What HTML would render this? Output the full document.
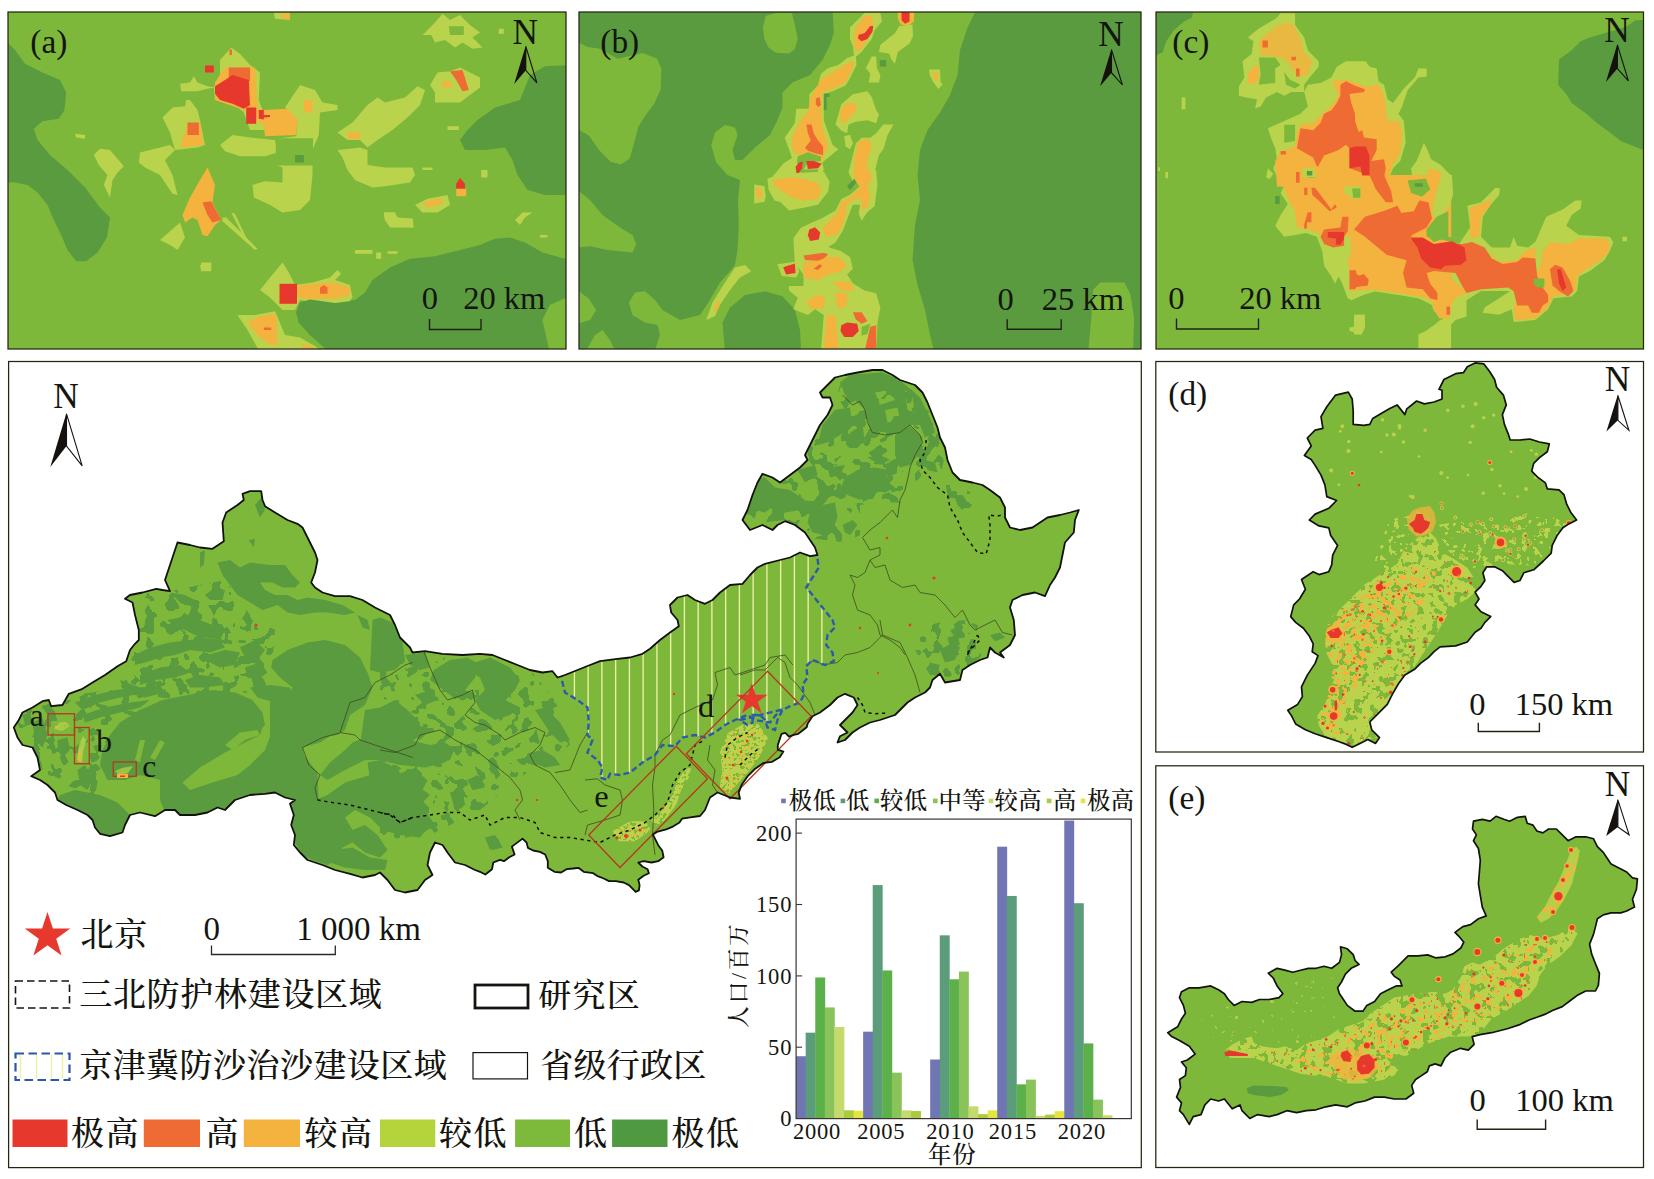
<!DOCTYPE html>
<html lang="zh"><head><meta charset="utf-8"><title>figure</title>
<style>html,body{margin:0;padding:0;background:#fff}svg{display:block}text{font-family:"Liberation Serif","Noto Serif CJK SC",serif;fill:#15150f;font-weight:500}</style></head><body>
<svg width="1654" height="1179" viewBox="0 0 1654 1179">
<rect width="1654" height="1179" fill="#fff"/>
<defs>
<clipPath id="cpa"><rect x="8.0" y="12.0" width="558.0" height="337.0"/></clipPath>
<clipPath id="cpb"><rect x="579.0" y="12.0" width="562.0" height="337.0"/></clipPath>
<clipPath id="cpc"><rect x="1156.0" y="12.0" width="487.5" height="337.0"/></clipPath>
<clipPath id="cpm"><rect x="8.6" y="361.5" width="1132.7" height="806.1"/></clipPath>
<clipPath id="cpd"><rect x="1155.8" y="361.5" width="487.7" height="390.5"/></clipPath>
<clipPath id="cpe"><rect x="1155.8" y="765.8" width="487.7" height="401.7"/></clipPath>
</defs>
<g clip-path="url(#cpa)">
<rect fill="#7db83b" x="8.0" y="12.0" width="558.0" height="337.0"/>
<polygon fill="#5a9b3f" points="5.0,40.0 15.0,50.0 25.0,63.8 42.5,72.5 60.0,80.0 66.2,92.5 64.5,110.0 58.8,118.8 42.5,121.2 33.8,128.8 37.5,140.0 50.0,155.0 67.5,170.0 85.0,187.5 100.0,207.5 110.0,217.5 107.0,237.5 97.5,252.5 86.2,261.2 76.2,261.2 67.5,250.0 61.2,235.0 53.8,220.0 47.5,205.0 37.5,192.5 27.5,185.0 15.0,182.5 5.0,182.5"/>
<polygon fill="#5a9b3f" points="570.0,65.0 545.0,66.2 530.0,75.0 525.0,87.5 520.0,100.0 495.0,107.5 477.5,120.0 467.5,130.0 460.0,140.0 465.0,150.0 485.0,150.0 505.0,147.5 512.5,160.0 517.5,175.0 527.5,190.0 545.0,195.0 570.0,195.0"/>
<polygon fill="#5a9b3f" points="296.2,312.5 300.0,302.5 310.0,298.8 335.0,302.5 355.0,300.0 365.0,292.5 372.5,280.0 390.0,267.5 410.0,258.8 435.0,256.2 460.0,250.0 480.0,245.0 495.0,238.8 510.0,237.5 525.0,242.5 542.5,252.5 570.0,260.0 570.0,296.2 550.0,305.0 542.5,320.0 550.0,352.5 330.0,352.5 310.0,335.0 298.8,322.5"/>
<polygon fill="#b9d34d" points="180.0,83.8 190.0,82.5 193.8,76.2 197.5,82.5 207.5,86.2 215.0,87.5 207.5,88.8 197.5,91.2 181.2,91.2"/>
<polygon fill="#b9d34d" points="220.0,60.0 231.2,47.5 240.0,53.8 250.0,65.0 260.0,72.5 258.8,100.0 262.5,110.0 265.0,130.0 250.0,130.0 243.8,112.5 235.0,105.0 215.0,100.0 213.8,87.5 220.0,75.0"/>
<polygon fill="#b9d34d" points="162.5,117.5 172.5,107.5 185.0,106.2 186.2,100.0 190.0,100.0 197.5,110.0 200.0,120.0 205.0,145.0 197.5,147.5 175.0,150.0 170.0,132.5"/>
<polygon fill="#b9d34d" points="140.0,152.5 170.0,145.0 175.0,150.0 165.0,160.0 172.5,175.0 177.5,195.0 172.5,193.8 160.0,175.0 145.0,167.5 138.8,162.5"/>
<polygon fill="#b9d34d" points="93.8,155.0 100.0,148.8 110.0,150.0 123.8,166.2 117.5,172.5 112.5,180.0 110.0,197.5 103.8,185.0 107.5,175.0 98.8,165.0"/>
<polygon fill="#b9d34d" points="75.0,133.8 85.0,135.0 85.0,138.8 76.2,137.5"/>
<polygon fill="#b9d34d" points="220.0,145.0 232.5,135.0 250.0,137.5 275.0,140.0 277.5,152.5 265.0,156.2 240.0,156.2 225.0,151.2"/>
<polygon fill="#b9d34d" points="285.0,107.5 300.0,85.0 315.0,90.0 322.5,102.5 337.5,105.0 337.5,110.0 320.0,112.5 318.8,135.0 312.5,150.0 312.5,175.0 310.0,200.0 300.0,210.0 282.5,212.5 270.0,205.0 253.8,197.5 252.5,185.0 265.0,181.2 282.5,182.5 282.5,167.5 276.2,165.0 276.2,138.8 296.2,136.2 297.5,120.0"/>
<polygon fill="#7db83b" points="275.8,138.2 313.0,138.2 313.0,165.5 275.8,165.5"/>
<polygon fill="#5a9b3f" points="295.0,155.0 303.8,155.0 303.8,162.5 295.0,162.5"/>
<polygon fill="#f4b23e" points="303.8,100.0 312.5,100.0 312.5,112.5 303.8,112.5"/>
<polygon fill="#b9d34d" points="160.0,240.0 180.0,222.5 185.0,237.5 177.5,250.0 170.0,245.0"/>
<polygon fill="#b9d34d" points="222.5,217.5 226.2,217.5 257.5,248.8 255.0,250.0 222.5,221.2"/>
<polygon fill="#b9d34d" points="231.2,212.5 235.0,213.8 246.2,237.5 243.8,237.5"/>
<polygon fill="#b9d34d" points="200.0,265.0 211.2,263.8 211.2,270.0 201.2,271.2"/>
<polygon fill="#b9d34d" points="273.8,12.5 290.0,12.5 290.0,20.0 275.0,18.8"/>
<polygon fill="#f4b23e" points="281.2,13.8 290.0,13.8 290.0,18.8 282.5,18.8"/>
<polygon fill="#b9d34d" points="383.8,212.5 395.0,212.5 397.5,217.5 412.8,218.8 412.8,227.5 390.0,227.5 385.0,220.0"/>
<polygon fill="#b9d34d" points="337.5,132.5 352.5,122.5 367.5,105.0 377.5,97.5 385.0,102.5 405.0,97.5 417.5,86.2 425.0,90.0 420.0,105.0 407.5,117.5 392.5,130.0 377.5,140.0 367.5,147.5 360.0,140.0 347.5,140.0"/>
<polygon fill="#f4b23e" points="347.5,132.5 360.0,132.5 360.0,138.8 347.5,138.8"/>
<polygon fill="#b9d34d" points="337.5,150.0 360.0,147.5 367.5,150.0 367.5,165.0 385.0,167.5 412.5,167.5 415.0,175.0 410.0,182.5 385.0,186.2 372.5,187.5 355.0,180.0 347.5,170.0 342.5,157.5"/>
<polygon fill="#b9d34d" points="422.5,35.0 435.0,22.5 442.5,13.8 450.0,20.0 460.0,15.0 470.0,25.0 480.0,32.5 472.5,37.5 482.5,47.5 472.5,48.8 462.5,42.5 455.0,47.5 445.0,40.0 435.0,42.5 431.2,35.0"/>
<polygon fill="#7db83b" points="448.8,26.2 463.8,26.2 463.8,35.0 450.0,35.0"/>
<polygon fill="#b9d34d" points="498.8,28.8 503.8,28.8 503.8,33.8 498.8,33.8"/>
<polygon fill="#b9d34d" points="430.0,85.0 437.5,72.5 450.0,71.2 460.0,67.5 480.0,77.5 480.0,87.5 470.0,95.0 460.0,102.5 435.0,102.5 435.0,92.5"/>
<polygon fill="#f4b23e" points="442.5,81.2 451.2,81.2 451.2,87.5 442.5,87.5"/>
<polygon fill="#ee6b33" points="450.0,71.2 462.5,70.0 468.8,90.0 462.5,91.2 456.2,80.0"/>
<polygon fill="#b9d34d" points="415.0,205.0 427.5,198.8 447.5,195.0 450.0,205.0 437.5,212.5 422.5,212.5"/>
<polygon fill="#f4b23e" points="422.5,203.8 430.0,200.0 442.5,198.8 442.5,203.8 427.5,207.5"/>
<polygon fill="#b9d34d" points="383.8,212.5 395.0,212.5 396.2,217.5 412.5,218.8 413.8,227.5 390.0,226.2 385.0,220.0"/>
<polygon fill="#b9d34d" points="355.0,250.0 372.5,250.0 372.5,253.8 355.0,253.8"/>
<polygon fill="#b9d34d" points="376.2,252.5 381.2,252.5 381.2,258.8 376.2,258.8"/>
<polygon fill="#b9d34d" points="387.5,251.2 397.5,251.2 397.5,253.8 387.5,253.8"/>
<polygon fill="#b9d34d" points="515.0,220.0 522.5,212.5 532.5,212.5 525.0,217.5 520.0,225.0"/>
<polygon fill="#b9d34d" points="447.5,126.2 458.8,126.2 458.8,130.0 447.5,130.0"/>
<polygon fill="#b9d34d" points="481.2,170.0 487.5,170.0 487.5,177.5 481.2,177.5"/>
<polygon fill="#b9d34d" points="422.5,167.5 432.5,167.5 432.5,170.0 422.5,170.0"/>
<polygon fill="#b9d34d" points="540.0,235.0 547.5,235.0 547.5,237.5 540.0,237.5"/>
<polygon fill="#b9d34d" points="201.2,262.5 211.2,262.5 211.2,271.2 201.2,271.2"/>
<polygon fill="#f4b23e" points="225.0,67.5 255.0,67.5 257.5,107.5 262.5,110.0 287.5,108.8 297.5,120.0 296.2,135.0 265.0,136.2 263.8,125.0 260.0,122.5 243.8,110.0 215.0,100.0 215.0,82.5"/>
<polygon fill="#f4b23e" points="180.0,147.5 187.5,125.0 200.0,122.5 203.8,145.0"/>
<polygon fill="#f4b23e" points="207.5,167.5 215.0,185.0 212.5,202.5 221.2,220.0 215.0,225.0 207.5,236.2 202.5,235.0 197.5,220.0 192.5,217.5 185.0,222.5 182.5,215.0 190.0,197.5 200.0,180.0"/>
<polygon fill="#ee6b33" points="228.8,67.5 250.0,67.5 250.0,81.2 228.8,81.2"/>
<polygon fill="#ee6b33" points="187.5,122.5 198.8,122.5 198.8,135.0 187.5,135.0"/>
<polygon fill="#ee6b33" points="202.5,202.5 211.2,201.2 221.2,220.0 212.5,222.5 207.5,215.0"/>
<polygon fill="#ee6b33" points="229.5,49.5 232.0,49.5 232.0,55.0 229.5,55.0"/>
<polygon fill="#e7382d" points="215.0,86.2 225.0,80.0 232.5,75.0 248.8,80.0 250.0,105.0 243.8,108.8 232.5,103.8 220.0,100.0 215.0,93.8"/>
<polygon fill="#e7382d" points="246.2,107.5 256.2,107.5 256.2,123.8 246.2,123.8"/>
<polygon fill="#e7382d" points="258.8,110.0 263.8,110.0 263.8,115.0 270.0,115.0 270.0,117.0 263.8,117.5 263.8,119.5 258.8,118.8"/>
<polygon fill="#e7382d" points="205.0,65.5 213.8,65.5 213.8,72.5 205.0,72.5"/>
<polygon fill="#e7382d" points="456.2,183.8 460.0,178.0 465.0,183.8 465.0,188.8 456.2,188.8"/>
<polygon fill="#f4b23e" points="456.2,188.8 466.2,188.8 466.2,196.2 456.2,196.2"/>
<polygon fill="#b9d34d" points="260.0,290.0 270.0,277.5 282.5,262.5 288.8,272.5 295.0,285.0 312.5,282.5 330.0,277.5 337.5,270.0 341.2,273.8 335.0,280.0 350.0,285.0 352.5,297.5 345.0,307.5 300.0,300.0 295.0,310.0 282.5,310.0 270.0,297.5"/>
<polygon fill="#f4b23e" points="295.0,286.2 312.5,283.8 332.5,282.5 350.0,287.5 350.0,295.0 335.0,298.8 300.0,298.8"/>
<polygon fill="#e7382d" points="279.5,283.8 297.0,283.8 297.0,303.8 279.5,303.8"/>
<polygon fill="#ee6b33" points="320.0,287.5 323.8,285.0 327.5,287.5 327.5,293.8 320.0,293.8"/>
<polygon fill="#b9d34d" points="237.5,315.0 255.0,315.0 275.0,311.2 278.8,320.0 285.0,335.0 300.0,337.5 317.5,347.5 317.5,352.5 260.0,352.5 247.5,330.0"/>
<polygon fill="#f4b23e" points="247.5,322.5 260.0,316.2 276.2,313.8 277.5,345.0 270.0,345.0 257.5,335.0"/>
<polygon fill="#f4b23e" points="302.5,343.8 315.0,347.5 315.0,352.5 302.5,352.5"/>
<polygon fill="#ee6b33" points="263.8,327.5 271.2,327.5 271.2,330.0 263.8,330.0"/>
<polygon fill="#5a9b3f" points="296.2,312.5 300.0,302.5 310.0,299.5 335.0,303.0 355.0,300.5 360.0,305.0 410.0,335.0 385.0,352.5 330.0,352.5 310.0,335.0 298.8,322.5"/>
<polygon fill="#7db83b" points="550.0,352.5 542.5,320.0 550.0,305.0 570.0,296.2 570.0,352.5"/>
</g>
<g clip-path="url(#cpb)">
<rect fill="#5a9b3f" x="579.0" y="12.0" width="562.0" height="337.0"/>
<polygon fill="#7db83b" points="832.5,10.0 833.8,32.5 830.0,45.0 822.5,60.0 810.0,75.0 792.5,82.5 782.5,92.5 782.5,107.5 777.5,120.0 770.0,135.0 755.0,147.5 742.5,160.0 735.0,160.0 732.5,150.0 737.5,135.0 735.0,127.5 725.0,125.0 715.0,132.5 711.2,145.0 716.2,162.5 727.5,175.0 740.0,180.0 738.0,200.0 738.8,225.0 737.5,250.0 735.0,265.0 730.0,271.2 720.0,282.5 710.0,300.0 700.0,315.0 680.0,320.0 662.5,310.0 655.0,300.0 645.0,291.2 635.0,292.5 628.8,302.5 632.5,315.0 645.0,322.5 657.5,325.0 660.0,335.0 655.0,350.0 933.8,350.0 930.0,335.0 925.0,310.0 917.5,285.0 912.5,260.0 915.0,225.0 920.0,200.0 917.5,175.0 920.0,150.0 927.5,130.0 940.0,112.5 950.0,95.0 957.5,75.0 960.0,50.0 967.5,27.5 976.2,10.0"/>
<polygon fill="#5a9b3f" points="722.5,322.5 730.0,307.5 745.0,295.0 765.0,291.2 782.5,296.2 795.0,310.0 800.0,330.0 801.2,352.5 725.0,352.5"/>
<polygon fill="#7db83b" points="578.7,42.7 587.4,47.1 599.0,48.5 617.9,58.7 642.6,52.9 657.1,58.7 661.4,68.8 660.7,89.2 654.2,103.7 645.5,115.3 638.2,126.9 633.8,144.3 629.5,158.8 620.8,164.6 610.6,161.7 599.0,150.1 588.9,135.6 578.7,129.8"/>
<polygon fill="#7db83b" points="762.9,27.4 765.8,15.8 776.0,12.9 791.9,12.9 794.8,24.5 797.7,39.0 794.8,49.2 789.0,53.5 776.0,52.8 768.7,47.7 764.4,39.0"/>
<polygon fill="#7db83b" points="577.5,190.0 590.0,200.0 602.5,215.0 620.0,227.5 632.5,235.0 636.2,243.8 632.5,252.5 607.5,250.0 590.0,246.2 577.5,247.5"/>
<polygon fill="#7db83b" points="577.5,290.0 588.8,298.8 596.2,310.0 590.0,320.0 577.5,323.8"/>
<polygon fill="#7db83b" points="585.0,352.5 595.0,335.0 602.5,330.0 610.0,340.0 616.2,352.5"/>
<polygon fill="#7db83b" points="1088.2,352.0 1091.8,312.6 1093.0,290.0 1100.3,282.5 1124.4,282.5 1130.5,294.4 1134.1,318.6 1133.0,352.0"/>
<polygon fill="#b9d34d" points="850.0,27.4 858.7,18.7 864.5,12.9 880.4,12.9 881.9,21.6 874.6,30.3 871.7,39.0 861.6,52.1 854.3,57.9 852.9,46.3 850.0,39.0"/>
<polygon fill="#f4b23e" points="855.8,27.4 864.5,15.8 871.7,15.8 873.2,24.5 870.3,33.2 864.5,44.8 858.7,52.1 854.3,47.7 854.3,36.1"/>
<polygon fill="#e7382d" points="858.7,34.7 864.5,33.2 870.3,26.0 873.2,26.0 872.5,31.8 867.4,39.0 861.6,41.2 857.9,38.3"/>
<polygon fill="#f4b23e" points="897.8,10.7 914.5,10.7 913.8,21.6 908.0,26.0 900.7,24.5 897.8,18.7"/>
<polygon fill="#e7382d" points="901.5,11.5 909.5,11.5 909.5,21.6 905.1,23.8 901.5,20.2"/>
<polygon fill="#b9d34d" points="899.3,26.0 912.4,24.5 913.1,36.1 909.5,43.4 903.7,47.7 897.8,52.1 894.9,63.7 891.3,59.3 889.1,53.5 879.0,52.1 880.4,44.8 887.7,39.0 894.9,33.2"/>
<polygon fill="#b9d34d" points="865.9,68.0 871.7,56.4 876.1,56.4 876.8,68.0 880.4,75.3 879.0,82.6 868.8,82.6 870.3,73.8"/>
<polygon fill="#5a9b3f" points="879.7,60.1 886.2,60.1 886.2,66.6 879.7,66.6"/>
<polygon fill="#b9d34d" points="929.0,69.5 939.9,69.5 940.7,82.6 942.8,84.0 938.5,89.1 933.4,82.6 929.8,75.3"/>
<polygon fill="#f4b23e" points="932.7,72.4 937.8,72.4 937.8,81.1 934.1,79.6"/>
<polygon fill="#b9d34d" points="855.8,55.0 856.5,65.1 850.0,78.2 845.6,85.5 832.6,91.3 823.8,94.2 823.8,120.3 832.6,144.9 838.4,149.3 829.6,156.6 822.4,162.4 823.8,169.6 818.0,181.2 768.7,181.2 783.2,163.8 791.9,158.0 789.0,149.3 784.7,137.7 794.8,123.2 796.3,108.7 809.3,108.7 809.3,94.2 818.0,85.5 820.9,73.8 828.2,68.0 838.4,65.1 847.1,57.9"/>
<polygon fill="#f4b23e" points="852.9,60.8 852.9,68.0 845.6,82.6 832.6,89.1 822.4,92.7 820.9,111.6 822.4,126.1 828.2,146.4 823.8,155.1 822.4,160.9 807.9,155.1 797.7,155.1 791.9,149.3 791.9,137.7 800.6,120.3 807.9,111.6 810.8,97.1 820.9,79.6 832.6,72.4 844.2,65.1"/>
<polygon fill="#ee6b33" points="815.9,98.5 819.5,97.1 820.9,104.3 818.8,107.2 815.9,104.3"/>
<polygon fill="#ee6b33" points="806.4,124.6 811.5,124.6 813.7,133.3 818.0,140.6 823.1,146.4 823.1,155.1 816.6,153.7 807.9,150.7 805.0,147.8 810.8,140.6 807.9,133.3"/>
<polygon fill="#7db83b" points="797.7,156.6 807.9,152.2 820.9,156.6 820.9,160.9 807.9,162.4 803.5,169.6 818.0,169.6 818.0,175.4 802.1,175.4 799.2,169.6 797.0,162.4"/>
<polygon fill="#e7382d" points="795.6,166.7 799.2,162.4 802.8,161.6 802.1,168.2 798.5,174.0 796.3,172.5"/>
<polygon fill="#e7382d" points="806.4,160.9 813.7,160.9 821.7,163.8 818.0,168.2 807.9,168.9"/>
<polygon fill="#5a9b3f" points="823.8,93.4 829.6,93.4 829.6,97.1 826.7,97.1 826.7,110.1 823.8,110.1"/>
<polygon fill="#b9d34d" points="841.3,104.3 852.9,94.2 867.4,91.3 871.7,97.1 876.1,110.1 879.0,114.5 876.1,123.2 867.4,120.3 855.8,121.7 848.5,124.6 847.1,133.3 841.3,130.4 835.5,124.6 838.4,114.5"/>
<polygon fill="#f4b23e" points="841.3,108.7 847.1,102.9 855.8,102.9 855.8,111.6 850.0,117.4 844.2,123.2 839.8,120.3"/>
<polygon fill="#b9d34d" points="876.1,133.3 883.3,124.6 893.5,124.6 887.7,134.8 883.3,149.3 879.0,155.1 876.1,166.7 871.7,181.2 852.9,181.2 848.5,172.5 852.9,155.1 855.8,143.5 861.6,137.7 870.3,137.7"/>
<polygon fill="#f4b23e" points="858.7,140.6 868.8,139.1 871.7,146.4 867.4,160.9 867.4,172.5 861.6,176.9 854.3,169.6 854.3,158.0"/>
<polygon fill="#b9d34d" points="844.2,136.2 850.0,134.8 852.9,143.5 850.0,149.3 845.6,146.4"/>
<polygon fill="#b9d34d" points="767.3,178.7 778.9,174.4 797.7,172.9 823.8,171.5 829.6,181.6 828.2,191.8 822.4,199.0 818.0,204.8 803.5,207.7 789.0,210.6 780.3,201.9 774.5,200.5 768.7,190.3"/>
<polygon fill="#f4b23e" points="773.1,180.2 789.0,177.3 803.5,178.7 818.0,183.1 820.9,190.3 818.0,199.0 803.5,200.5 791.9,197.6 783.2,191.8 774.5,186.0"/>
<polygon fill="#b9d34d" points="754.2,184.5 764.4,186.0 765.8,196.1 764.4,201.9 754.2,203.4"/>
<polygon fill="#f4b23e" points="755.6,187.4 761.5,188.9 762.9,197.6 757.1,199.0"/>
<polygon fill="#b9d34d" points="850.0,170.0 876.1,170.0 877.5,184.5 874.6,206.3 867.4,212.1 861.6,220.8 858.7,213.5 860.1,204.8 852.9,204.8 847.1,219.3 842.7,230.9 835.5,242.6 828.2,246.9 841.3,251.3 850.0,257.1 852.9,268.7 847.1,274.5 852.9,283.2 864.5,290.4 876.1,293.3 880.4,307.8 877.5,322.4 876.1,351.4 820.9,351.4 823.8,315.1 815.1,309.3 807.9,315.1 793.4,309.3 797.7,297.7 789.0,290.4 789.0,286.1 803.5,286.1 803.5,274.5 794.8,262.9 793.4,238.2 800.6,228.0 809.3,223.7 822.4,217.9 835.5,210.6 841.3,199.0 850.0,194.7 860.1,186.0 852.9,175.8"/>
<polygon fill="#f4b23e" points="860.1,187.4 867.4,184.5 870.3,196.1 867.4,207.7 861.6,210.6 861.6,199.0 855.8,199.0 847.1,203.4 845.6,216.4 841.3,228.0 835.5,235.3 825.3,236.7 822.4,228.0 829.6,220.8 836.9,213.5 841.3,201.9 850.0,197.6"/>
<polygon fill="#f4b23e" points="852.9,170.0 870.3,170.0 871.7,178.7 867.4,186.0 860.1,187.4 854.3,178.7"/>
<polygon fill="#e7382d" points="809.3,229.5 815.1,227.3 820.2,232.4 818.8,239.6 810.1,241.1 807.9,235.3"/>
<polygon fill="#f4b23e" points="803.5,262.9 826.7,257.1 838.4,257.1 847.1,264.3 841.3,271.6 828.2,274.5 818.0,280.3 803.5,277.4"/>
<polygon fill="#ee6b33" points="803.5,255.6 823.8,252.7 828.2,254.2 823.8,258.5 818.0,260.7 805.0,260.0"/>
<polygon fill="#ee6b33" points="813.7,268.7 819.5,264.3 822.4,265.8 818.0,270.1"/>
<polygon fill="#b9d34d" points="777.4,264.3 796.3,261.4 799.2,271.6 796.3,277.4 781.8,275.9"/>
<polygon fill="#e7382d" points="783.2,267.2 794.8,263.6 795.6,273.0 786.1,274.5"/>
<polygon fill="#f4b23e" points="806.4,300.6 818.0,294.8 825.3,297.7 823.8,307.8 810.8,309.3"/>
<polygon fill="#f4b23e" points="835.5,291.9 847.1,293.3 847.1,304.9 838.4,309.3 835.5,300.6"/>
<polygon fill="#f4b23e" points="832.6,281.7 850.0,281.7 854.3,290.4 841.3,290.4"/>
<polygon fill="#f4b23e" points="826.7,315.1 835.5,315.1 838.4,351.4 823.8,351.4"/>
<polygon fill="#ee6b33" points="852.9,312.2 861.6,312.2 867.4,320.9 861.6,323.8 855.8,319.5"/>
<polygon fill="#e7382d" points="841.3,325.3 847.1,322.4 857.2,323.8 858.7,331.1 852.9,336.9 844.2,336.9 840.5,331.1"/>
<polygon fill="#ee6b33" points="870.3,326.7 876.1,325.3 876.1,351.4 864.5,351.4"/>
<polygon fill="#7db83b" points="861.6,326.7 870.3,323.8 867.4,334.0 861.6,335.4"/>
<polygon fill="#5a9b3f" points="847.1,186.0 854.3,178.7 856.5,182.3 850.0,190.3"/>
<polygon fill="#b9d34d" points="706.2,320.0 712.5,302.5 725.0,282.5 735.0,267.5 745.0,265.0 751.2,271.2 740.0,277.5 730.0,290.0 720.0,305.0 715.0,316.2"/>
<polygon fill="#f4b23e" points="713.8,310.0 717.5,300.0 720.0,303.8 716.2,312.5"/>
</g>
<g clip-path="url(#cpc)">
<rect fill="#7db83b" x="1156.0" y="12.0" width="489.0" height="337.0"/>
<polygon fill="#5a9b3f" points="1155.4,10.4 1193.5,10.4 1191.7,17.7 1184.5,21.3 1173.6,30.4 1166.3,41.3 1162.7,52.2 1155.4,55.8"/>
<polygon fill="#5a9b3f" points="1646.0,19.5 1635.1,20.4 1626.1,26.8 1607.9,32.2 1589.8,37.6 1580.7,41.3 1571.7,50.3 1559.0,59.4 1558.1,84.8 1566.2,93.9 1571.7,102.9 1586.2,113.8 1597.0,122.9 1611.6,133.8 1620.6,141.0 1646.0,151.0"/>
<polygon fill="#b9d34d" points="1247.9,37.6 1258.8,28.6 1277.0,17.7 1280.6,13.2 1295.1,13.2 1295.1,25.0 1304.2,37.6 1307.8,50.3 1318.7,61.2 1318.7,66.7 1309.6,77.6 1304.2,84.8 1304.2,92.1 1291.5,92.1 1284.2,95.7 1277.0,92.1 1266.1,97.5 1260.6,106.6 1255.2,108.4 1257.0,99.3 1246.1,97.5 1238.9,95.7 1238.9,86.6 1244.3,77.6 1242.5,61.2 1251.6,54.0 1253.4,41.3"/>
<polygon fill="#f4b23e" points="1260.6,38.6 1277.0,25.9 1287.8,22.2 1294.2,25.9 1300.5,39.5 1304.2,52.2 1312.3,61.2 1307.8,74.8 1297.8,77.6 1290.6,66.7 1285.1,59.4 1275.2,56.7 1260.6,54.9 1258.8,44.9" opacity="0.8"/>
<polygon fill="#7db83b" points="1258.8,57.6 1275.2,57.6 1280.6,64.9 1275.2,68.5 1275.2,83.0 1258.8,84.8 1260.6,73.9"/>
<polygon fill="#7db83b" points="1284.2,72.1 1289.7,79.4 1300.5,84.8 1295.1,88.4 1286.0,84.8"/>
<polygon fill="#f4b23e" points="1247.9,73.9 1255.2,64.9 1258.8,66.7 1258.8,81.2 1247.9,84.8"/>
<polygon fill="#ee6b33" points="1262.5,40.4 1267.9,40.4 1267.9,47.6 1262.5,47.6"/>
<polygon fill="#ee6b33" points="1291.5,56.7 1296.0,56.7 1296.0,60.3 1291.5,60.3"/>
<polygon fill="#ee6b33" points="1296.0,68.5 1299.6,68.5 1299.6,76.6 1296.0,76.6"/>
<polygon fill="#b9d34d" points="1336.8,66.7 1345.9,61.2 1365.8,61.2 1369.5,66.7 1376.7,68.5 1378.5,81.2 1384.0,84.8 1387.6,99.3 1393.0,102.9 1403.9,88.4 1414.8,77.6 1418.4,68.5 1426.6,68.5 1426.6,76.6 1418.4,77.6 1407.6,90.2 1402.1,106.6 1398.5,113.8 1403.9,121.1 1405.7,142.8 1400.3,161.0 1393.0,168.2 1385.8,186.4 1280.6,186.4 1273.3,168.2 1277.0,159.2 1275.2,148.3 1271.5,139.2 1267.9,128.3 1284.2,121.1 1300.5,113.8 1307.8,106.6 1304.2,92.1 1307.8,84.8 1320.5,83.0 1331.4,77.6"/>
<polygon fill="#b9d34d" points="1267.9,168.2 1266.1,177.3 1269.7,179.1 1273.3,173.7"/>
<polygon fill="#7db83b" points="1284.2,124.7 1295.1,124.7 1295.1,141.0 1284.2,142.8"/>
<polygon fill="#b9d34d" points="1280.6,175.0 1284.2,185.9 1280.6,193.1 1287.8,204.0 1280.6,214.9 1275.2,225.8 1284.2,236.7 1295.1,234.9 1306.0,233.0 1316.9,236.7 1322.3,251.2 1324.1,265.7 1331.4,276.6 1335.0,283.8 1338.6,276.6 1342.3,283.8 1347.7,298.3 1351.3,300.2 1364.0,294.7 1376.7,291.1 1400.3,294.7 1418.4,298.3 1433.0,305.6 1443.8,316.5 1451.1,320.1 1451.1,175.0"/>
<polygon fill="#b9d34d" points="1418.4,334.6 1429.3,329.2 1440.2,320.1 1451.1,316.5 1451.1,349.1 1418.4,349.1"/>
<polygon fill="#b9d34d" points="1356.8,314.7 1364.9,314.7 1364.9,327.4 1361.3,334.6 1349.5,331.0 1349.5,327.4 1360.4,325.5"/>
<polygon fill="#5a9b3f" points="1275.2,195.9 1279.7,195.9 1279.7,204.0 1275.2,204.0"/>
<polygon fill="#b9d34d" points="1354.0,175.0 1451.9,175.0 1452.9,195.0 1448.3,207.6 1437.4,218.5 1430.2,229.4 1448.3,236.7 1462.8,238.5 1470.1,227.6 1467.4,205.8 1481.0,202.2 1495.5,187.7 1500.0,188.6 1499.1,195.0 1490.0,205.8 1482.8,216.7 1481.0,236.7 1491.8,247.6 1510.0,247.6 1513.6,236.7 1517.2,245.7 1528.1,247.6 1535.4,242.1 1540.8,229.4 1546.3,216.7 1562.6,209.5 1575.3,200.4 1581.6,200.4 1580.7,208.6 1571.7,214.9 1566.2,225.8 1578.9,234.9 1609.7,236.7 1613.4,242.1 1609.7,251.2 1604.3,260.2 1589.8,271.1 1578.9,276.6 1577.1,291.1 1571.7,296.5 1553.5,298.3 1548.1,309.2 1535.4,320.1 1513.6,321.9 1511.8,309.2 1499.1,314.7 1482.8,312.8 1484.6,307.4 1499.1,298.3 1510.0,291.1 1481.0,291.1 1466.5,300.2 1466.5,316.5 1455.6,320.1 1448.3,327.4 1441.1,334.6 1432.0,347.3 1419.3,347.3 1419.3,338.2 1430.2,327.4 1444.7,320.1 1433.8,311.0 1430.2,300.2 1408.4,296.5 1372.1,291.1 1354.0,291.1"/>
<polygon fill="#b9d34d" points="1622.4,236.7 1627.0,236.7 1627.0,241.2 1622.4,241.2"/>
<polygon fill="#b9d34d" points="1354.0,314.7 1364.9,314.7 1364.9,327.4 1361.3,334.6 1354.0,334.6"/>
<polygon fill="#b9d34d" points="1411.2,168.2 1416.6,161.0 1423.9,142.8 1427.5,150.1 1431.1,159.2 1440.2,164.6 1451.1,175.5 1451.1,186.4 1413.0,186.4"/>
<polygon fill="#f4b23e" points="1331.4,81.2 1345.9,79.4 1365.8,86.6 1378.5,84.8 1384.0,95.7 1387.6,121.1 1398.5,121.1 1402.1,132.0 1400.3,153.7 1393.0,164.6 1385.8,186.4 1277.0,186.4 1275.2,161.0 1280.6,151.9 1295.1,146.5 1296.9,132.0 1300.5,124.7 1313.2,122.9 1324.1,112.0 1331.4,106.6 1338.6,95.7"/>
<polygon fill="#f4b23e" points="1287.8,175.0 1284.2,189.5 1289.7,202.2 1295.1,211.3 1296.9,227.6 1309.6,229.4 1322.3,234.9 1344.1,234.9 1349.5,236.7 1351.3,251.2 1347.7,262.1 1349.5,269.3 1349.5,291.1 1376.7,289.3 1400.3,292.9 1418.4,294.7 1433.0,302.0 1440.2,309.2 1451.1,312.8 1451.1,175.0"/>
<polygon fill="#f4b23e" points="1354.0,175.0 1375.8,175.0 1381.2,189.5 1395.7,204.0 1415.7,207.6 1422.9,198.6 1430.2,204.0 1433.8,216.7 1426.6,229.4 1413.9,236.7 1426.6,272.9 1448.3,271.1 1455.6,283.8 1470.1,291.1 1455.6,298.3 1448.3,309.2 1450.1,318.3 1439.2,318.3 1433.8,309.2 1432.0,298.3 1408.4,294.7 1372.1,289.3 1354.0,289.3"/>
<polygon fill="#f4b23e" points="1470.1,207.6 1481.0,204.0 1491.8,198.6 1490.0,205.8 1481.0,216.7 1479.2,236.7 1470.1,238.5"/>
<polygon fill="#f4b23e" points="1542.6,251.2 1549.9,242.1 1568.0,243.9 1578.9,238.5 1607.9,238.5 1609.7,251.2 1600.7,260.2 1586.2,269.3 1577.1,276.6 1575.3,291.1 1553.5,296.5 1546.3,309.2 1535.4,318.3 1515.4,320.1 1513.6,309.2 1517.2,298.3 1535.4,276.6 1540.8,265.7"/>
<polygon fill="#f4b23e" points="1490.0,251.2 1499.1,262.1 1517.2,260.2 1524.5,251.2 1535.4,247.6 1535.4,258.4 1517.2,265.7 1499.1,265.7"/>
<polygon fill="#f4b23e" points="1427.5,168.2 1440.2,171.9 1447.5,186.4 1429.3,186.4"/>
<polygon fill="#7db83b" points="1407.6,180.4 1425.7,178.6 1429.3,189.5 1422.1,196.8 1411.2,193.1"/>
<polygon fill="#5a9b3f" points="1414.8,183.2 1422.1,183.2 1422.1,186.8 1414.8,186.8"/>
<polygon fill="#b9d34d" points="1344.1,185.9 1360.4,185.9 1360.4,198.6 1353.1,198.6 1344.1,193.1"/>
<polygon fill="#7db83b" points="1352.2,188.6 1360.4,188.6 1360.4,197.7 1353.1,197.7"/>
<polygon fill="#7db83b" points="1307.8,175.0 1315.1,175.0 1315.1,177.7 1307.8,177.7"/>
<polygon fill="#7db83b" points="1426.6,229.4 1433.8,220.3 1448.3,236.7 1462.8,238.5 1459.2,243.9 1444.7,240.3 1426.6,236.7"/>
<polygon fill="#b9d34d" points="1441.1,175.0 1451.9,175.0 1452.9,195.0 1448.3,207.6 1439.2,218.5 1432.0,216.7 1433.8,202.2"/>
<polygon fill="#ee6b33" points="1340.4,84.8 1345.9,81.2 1355.0,85.7 1364.9,89.3 1364.0,92.1 1349.5,93.9 1351.3,102.9 1355.0,113.8 1355.0,121.1 1358.6,132.0 1362.2,130.2 1364.0,137.4 1376.7,139.2 1376.7,150.1 1371.3,161.0 1384.0,159.2 1385.8,168.2 1382.2,186.4 1374.9,186.4 1369.5,175.5 1349.5,168.2 1349.5,148.3 1345.9,144.7 1338.6,150.1 1333.2,153.7 1324.1,155.5 1322.3,166.4 1316.9,166.4 1313.2,157.4 1296.9,148.3 1300.5,128.3 1313.2,130.2 1320.5,122.9 1324.1,113.8 1331.4,110.2 1336.8,102.9 1340.4,95.7"/>
<polygon fill="#f4b23e" points="1324.1,155.5 1338.6,150.1 1345.9,148.3 1347.7,168.2 1349.5,173.7 1360.4,175.5 1364.0,186.4 1313.2,186.4 1316.9,168.2"/>
<polygon fill="#e7382d" points="1349.5,148.3 1355.0,146.5 1365.8,146.5 1369.5,155.5 1369.5,175.5 1362.2,175.5 1360.4,166.4 1349.5,168.2"/>
<polygon fill="#b9d34d" points="1302.4,168.2 1315.1,168.2 1315.1,177.3 1302.4,177.3"/>
<polygon fill="#5a9b3f" points="1306.9,171.0 1312.3,171.0 1312.3,175.5 1306.9,175.5"/>
<polygon fill="#ee6b33" points="1296.0,171.9 1299.6,171.9 1299.6,182.8 1296.0,182.8"/>
<polygon fill="#ee6b33" points="1280.6,151.0 1286.0,151.0 1286.0,154.6 1280.6,154.6"/>
<polygon fill="#ee6b33" points="1320.5,236.7 1324.1,229.4 1340.4,227.6 1342.3,216.7 1348.6,216.7 1347.7,231.2 1344.1,236.7 1344.1,245.7 1333.2,247.6 1324.1,243.9"/>
<polygon fill="#e7382d" points="1327.8,232.1 1344.1,232.1 1344.1,238.5 1340.4,244.8 1335.9,244.8 1335.9,238.5 1327.8,237.6"/>
<polygon fill="#ee6b33" points="1311.4,187.7 1315.1,187.7 1331.4,209.5 1335.0,204.0 1336.8,207.6 1329.6,211.3 1318.7,200.4 1312.3,195.0"/>
<polygon fill="#ee6b33" points="1304.2,187.7 1307.4,187.7 1307.4,195.0 1304.2,195.0"/>
<polygon fill="#ee6b33" points="1307.8,212.2 1311.4,212.2 1311.4,222.2 1306.9,222.2 1306.9,228.5 1304.2,228.5 1304.2,224.0"/>
<polygon fill="#ee6b33" points="1373.1,175.0 1384.0,175.0 1391.2,191.3 1393.0,202.2 1385.8,202.2 1374.9,187.7"/>
<polygon fill="#ee6b33" points="1349.5,270.2 1355.9,270.2 1356.8,276.6 1364.0,273.9 1368.6,280.2 1367.7,285.6 1356.8,285.6 1355.0,289.3 1349.5,289.3"/>
<polygon fill="#ee6b33" points="1354.0,229.4 1364.9,216.7 1383.0,211.3 1397.5,205.8 1401.2,213.1 1413.9,211.3 1419.3,200.4 1428.4,202.2 1432.0,218.5 1426.6,227.6 1412.0,234.9 1410.2,238.5 1419.3,243.9 1462.8,243.9 1471.9,242.1 1484.6,247.6 1491.8,258.4 1502.7,263.9 1517.2,262.1 1522.7,257.5 1535.4,258.4 1537.2,276.6 1542.6,287.5 1548.1,294.7 1548.1,302.0 1542.6,305.6 1539.0,312.8 1531.8,312.8 1528.1,305.6 1517.2,305.6 1513.6,291.1 1508.2,287.5 1481.0,289.3 1466.5,292.9 1461.0,283.8 1455.6,272.9 1433.8,271.1 1426.6,272.9 1430.2,283.8 1437.4,292.9 1437.4,300.2 1430.2,298.3 1422.9,289.3 1406.6,287.5 1403.0,272.9 1406.6,260.2 1386.6,254.8 1375.8,245.7 1364.9,236.7"/>
<polygon fill="#ee6b33" points="1354.0,272.9 1361.3,276.6 1368.5,278.4 1366.7,285.6 1354.0,287.5"/>
<polygon fill="#e7382d" points="1410.2,237.6 1422.9,237.6 1433.8,243.9 1451.9,241.2 1464.6,247.6 1466.5,260.2 1461.0,264.8 1444.7,265.7 1441.1,269.3 1430.2,267.5 1421.1,258.4 1417.5,247.6"/>
<polygon fill="#ee6b33" points="1549.9,269.3 1555.3,264.8 1562.6,267.5 1569.8,280.2 1573.5,291.1 1568.0,296.5 1559.0,291.1 1552.6,285.6"/>
<polygon fill="#e7382d" points="1557.1,269.3 1560.8,269.3 1566.2,287.5 1562.6,291.1 1559.0,283.8"/>
<polygon fill="#7db83b" points="1533.6,278.4 1544.4,278.4 1544.4,287.5 1537.2,287.5 1533.6,283.8"/>
<polygon fill="#7db83b" points="1408.4,180.4 1426.6,180.4 1430.2,189.5 1422.9,195.0 1412.0,193.1"/>
<polygon fill="#5a9b3f" points="1414.8,183.2 1422.9,183.2 1422.9,186.8 1414.8,186.8"/>
<polygon fill="#ee6b33" points="1446.5,306.5 1450.1,306.5 1450.1,314.7 1446.5,314.7"/>
<polygon fill="#7db83b" points="1427.6,229.4 1436.7,216.7 1448.3,211.3 1448.3,236.7 1433.8,242.1 1428.4,236.7"/>
<polygon fill="#b9d34d" points="1181.7,97.5 1185.4,97.5 1185.4,109.3 1181.7,109.3"/>
<polygon fill="#b9d34d" points="1165.4,171.9 1168.1,171.9 1168.1,178.2 1165.4,178.2"/>
<polygon fill="#b9d34d" points="1158.2,167.3 1160.0,167.3 1160.0,171.0 1158.2,171.0"/>
</g>
<g clip-path="url(#cpm)">
<clipPath id="mapclip"><polygon points="13.8,727.5 18.8,720.0 22.5,712.5 32.5,707.5 42.5,701.2 48.8,700.0 51.2,706.2 62.5,705.0 68.8,693.8 82.5,688.8 92.5,682.5 105.0,675.0 117.5,666.2 126.2,661.2 130.0,650.0 135.0,643.8 138.8,640.0 138.8,630.0 135.0,615.0 132.5,602.5 125.0,598.8 130.0,595.0 142.5,592.5 156.2,588.8 162.5,590.0 170.0,591.2 165.0,580.0 170.0,565.0 175.0,550.0 177.5,542.5 190.0,545.0 200.0,547.5 212.5,548.8 223.8,541.2 222.5,522.5 226.2,512.5 237.5,505.0 243.8,500.0 242.5,493.8 250.0,491.2 261.2,491.2 262.5,500.0 265.0,506.2 275.0,512.5 287.5,520.0 297.5,523.8 302.5,527.5 307.5,537.5 315.0,552.5 317.5,560.0 315.0,572.5 311.2,582.5 315.0,587.5 322.5,592.5 335.0,596.2 350.0,596.2 362.5,600.0 375.0,607.5 390.0,615.0 395.0,625.0 400.0,637.5 410.0,647.5 412.5,652.5 425.0,651.2 442.5,653.8 462.5,655.0 480.0,653.8 492.5,655.0 505.0,660.0 517.5,665.0 530.0,670.0 542.5,672.5 552.5,671.2 557.5,677.5 565.0,675.0 577.5,670.0 590.0,665.0 600.0,661.2 617.5,658.8 630.0,657.5 642.5,653.8 650.0,648.8 660.0,640.0 670.0,632.5 678.8,626.2 677.5,620.0 671.2,612.5 670.0,605.0 677.5,597.5 687.5,595.0 695.0,600.0 705.0,603.8 712.5,600.0 720.0,592.5 730.0,585.0 742.5,583.8 750.0,575.0 757.5,567.5 765.0,563.8 780.0,560.0 790.0,557.5 800.0,552.5 810.0,556.2 817.5,555.0 815.0,547.5 810.0,540.0 805.0,532.5 795.0,525.0 785.0,521.2 777.5,525.0 772.5,530.0 762.5,525.0 750.0,530.0 742.5,520.0 747.5,510.0 752.5,495.0 757.5,482.5 762.5,473.8 772.5,477.5 780.0,482.5 790.0,475.0 800.0,467.5 807.5,460.0 805.0,455.0 810.0,445.0 815.0,435.0 820.0,425.0 827.5,415.0 832.5,405.0 830.0,397.5 822.5,397.5 820.0,392.5 827.5,385.0 835.0,377.5 845.0,375.0 857.5,372.5 872.5,370.0 882.5,370.0 892.5,375.0 900.0,380.0 915.0,385.0 922.5,392.5 927.5,402.5 932.5,415.0 937.5,427.5 940.0,437.5 945.0,447.5 947.5,460.0 952.5,472.5 960.0,480.0 972.5,482.5 982.5,485.0 990.0,490.0 1000.0,497.5 1005.0,507.5 1005.0,517.5 1010.0,527.5 1020.0,530.0 1032.5,527.5 1040.0,522.5 1047.5,517.5 1060.0,515.0 1070.0,512.5 1078.8,510.0 1075.0,520.0 1073.8,532.5 1065.0,542.5 1062.5,555.0 1060.0,567.5 1055.0,577.5 1050.0,585.0 1045.0,596.2 1035.0,592.5 1022.5,595.0 1012.5,600.0 1010.0,607.5 1013.8,620.0 1015.0,635.0 1010.0,645.0 1000.0,652.5 1003.8,657.5 995.0,652.5 990.0,647.5 987.5,657.5 980.0,660.0 970.0,665.0 962.5,670.0 960.0,680.0 945.0,682.5 940.0,673.8 932.5,680.0 930.0,687.5 925.0,692.5 915.0,697.5 907.5,702.5 900.0,710.0 895.0,715.0 887.5,717.5 880.0,720.0 870.0,722.5 860.0,727.5 852.5,732.5 845.0,740.0 837.5,742.5 840.0,736.2 847.5,732.5 840.0,725.0 845.0,720.0 852.5,712.5 857.5,705.0 853.8,697.5 845.0,693.8 837.5,697.5 830.0,705.0 820.0,712.5 812.5,716.2 807.7,723.6 806.7,727.3 798.3,733.8 793.7,734.8 789.0,736.6 785.3,732.9 781.6,733.8 779.7,739.4 777.8,745.0 777.8,749.7 783.4,751.6 779.7,757.2 772.2,761.8 763.8,762.8 754.5,769.3 748.0,775.8 741.5,785.1 738.7,792.6 740.0,798.8 730.0,797.5 717.5,792.5 710.0,797.5 705.0,810.0 700.0,816.0 690.2,817.3 682.2,818.6 679.5,822.6 672.9,826.6 666.2,829.3 656.9,831.9 652.9,834.6 655.6,839.9 658.2,845.2 662.2,850.5 663.6,857.2 658.2,861.2 651.6,862.5 643.6,861.2 638.3,862.5 642.3,866.5 647.6,869.2 648.9,873.2 643.6,875.8 638.3,879.8 639.6,885.1 638.9,890.4 635.6,891.8 633.0,889.1 629.0,885.1 623.7,882.5 615.7,881.1 609.0,881.1 603.7,878.5 597.0,875.8 593.1,873.2 583.7,871.8 578.4,867.8 573.1,868.5 566.5,869.2 561.1,872.5 554.5,871.8 547.8,867.8 547.8,861.2 545.2,854.5 539.9,851.9 533.2,850.5 527.9,847.9 526.6,842.6 522.6,838.6 517.2,842.6 511.9,846.6 514.6,854.5 509.3,857.2 503.9,861.2 500.0,859.9 493.3,862.5 492.0,869.2 485.3,874.5 480.0,871.8 475.0,870.0 465.0,865.0 455.0,862.5 447.5,852.5 442.5,845.0 435.0,842.5 430.0,852.5 427.5,865.0 432.5,875.0 425.0,880.0 417.5,890.0 405.0,892.5 395.0,890.0 387.5,880.0 380.0,872.5 375.0,875.0 362.5,877.5 350.0,873.8 335.0,870.0 322.5,865.0 307.5,860.0 300.0,852.5 293.8,845.0 295.0,835.0 291.2,825.0 293.8,815.0 290.0,803.8 295.0,800.0 285.0,797.5 275.0,792.5 265.0,793.8 250.0,795.0 235.0,800.0 225.0,810.0 217.5,807.5 207.5,812.5 195.0,815.0 180.0,815.0 175.0,810.0 165.0,810.0 155.0,816.2 140.0,812.5 130.0,815.0 125.0,825.0 122.5,832.5 110.0,836.2 100.0,833.8 95.0,827.5 92.5,820.0 87.5,815.0 77.5,810.0 66.2,805.0 57.5,800.0 55.0,792.5 47.5,785.0 40.0,780.0 31.2,776.2 40.0,770.0 37.5,757.5 32.5,747.5 22.5,745.0 17.5,737.5"/></clipPath>
<g clip-path="url(#mapclip)">
<polygon fill="#7db83b" points="13.8,727.5 18.8,720.0 22.5,712.5 32.5,707.5 42.5,701.2 48.8,700.0 51.2,706.2 62.5,705.0 68.8,693.8 82.5,688.8 92.5,682.5 105.0,675.0 117.5,666.2 126.2,661.2 130.0,650.0 135.0,643.8 138.8,640.0 138.8,630.0 135.0,615.0 132.5,602.5 125.0,598.8 130.0,595.0 142.5,592.5 156.2,588.8 162.5,590.0 170.0,591.2 165.0,580.0 170.0,565.0 175.0,550.0 177.5,542.5 190.0,545.0 200.0,547.5 212.5,548.8 223.8,541.2 222.5,522.5 226.2,512.5 237.5,505.0 243.8,500.0 242.5,493.8 250.0,491.2 261.2,491.2 262.5,500.0 265.0,506.2 275.0,512.5 287.5,520.0 297.5,523.8 302.5,527.5 307.5,537.5 315.0,552.5 317.5,560.0 315.0,572.5 311.2,582.5 315.0,587.5 322.5,592.5 335.0,596.2 350.0,596.2 362.5,600.0 375.0,607.5 390.0,615.0 395.0,625.0 400.0,637.5 410.0,647.5 412.5,652.5 425.0,651.2 442.5,653.8 462.5,655.0 480.0,653.8 492.5,655.0 505.0,660.0 517.5,665.0 530.0,670.0 542.5,672.5 552.5,671.2 557.5,677.5 565.0,675.0 577.5,670.0 590.0,665.0 600.0,661.2 617.5,658.8 630.0,657.5 642.5,653.8 650.0,648.8 660.0,640.0 670.0,632.5 678.8,626.2 677.5,620.0 671.2,612.5 670.0,605.0 677.5,597.5 687.5,595.0 695.0,600.0 705.0,603.8 712.5,600.0 720.0,592.5 730.0,585.0 742.5,583.8 750.0,575.0 757.5,567.5 765.0,563.8 780.0,560.0 790.0,557.5 800.0,552.5 810.0,556.2 817.5,555.0 815.0,547.5 810.0,540.0 805.0,532.5 795.0,525.0 785.0,521.2 777.5,525.0 772.5,530.0 762.5,525.0 750.0,530.0 742.5,520.0 747.5,510.0 752.5,495.0 757.5,482.5 762.5,473.8 772.5,477.5 780.0,482.5 790.0,475.0 800.0,467.5 807.5,460.0 805.0,455.0 810.0,445.0 815.0,435.0 820.0,425.0 827.5,415.0 832.5,405.0 830.0,397.5 822.5,397.5 820.0,392.5 827.5,385.0 835.0,377.5 845.0,375.0 857.5,372.5 872.5,370.0 882.5,370.0 892.5,375.0 900.0,380.0 915.0,385.0 922.5,392.5 927.5,402.5 932.5,415.0 937.5,427.5 940.0,437.5 945.0,447.5 947.5,460.0 952.5,472.5 960.0,480.0 972.5,482.5 982.5,485.0 990.0,490.0 1000.0,497.5 1005.0,507.5 1005.0,517.5 1010.0,527.5 1020.0,530.0 1032.5,527.5 1040.0,522.5 1047.5,517.5 1060.0,515.0 1070.0,512.5 1078.8,510.0 1075.0,520.0 1073.8,532.5 1065.0,542.5 1062.5,555.0 1060.0,567.5 1055.0,577.5 1050.0,585.0 1045.0,596.2 1035.0,592.5 1022.5,595.0 1012.5,600.0 1010.0,607.5 1013.8,620.0 1015.0,635.0 1010.0,645.0 1000.0,652.5 1003.8,657.5 995.0,652.5 990.0,647.5 987.5,657.5 980.0,660.0 970.0,665.0 962.5,670.0 960.0,680.0 945.0,682.5 940.0,673.8 932.5,680.0 930.0,687.5 925.0,692.5 915.0,697.5 907.5,702.5 900.0,710.0 895.0,715.0 887.5,717.5 880.0,720.0 870.0,722.5 860.0,727.5 852.5,732.5 845.0,740.0 837.5,742.5 840.0,736.2 847.5,732.5 840.0,725.0 845.0,720.0 852.5,712.5 857.5,705.0 853.8,697.5 845.0,693.8 837.5,697.5 830.0,705.0 820.0,712.5 812.5,716.2 807.7,723.6 806.7,727.3 798.3,733.8 793.7,734.8 789.0,736.6 785.3,732.9 781.6,733.8 779.7,739.4 777.8,745.0 777.8,749.7 783.4,751.6 779.7,757.2 772.2,761.8 763.8,762.8 754.5,769.3 748.0,775.8 741.5,785.1 738.7,792.6 740.0,798.8 730.0,797.5 717.5,792.5 710.0,797.5 705.0,810.0 700.0,816.0 690.2,817.3 682.2,818.6 679.5,822.6 672.9,826.6 666.2,829.3 656.9,831.9 652.9,834.6 655.6,839.9 658.2,845.2 662.2,850.5 663.6,857.2 658.2,861.2 651.6,862.5 643.6,861.2 638.3,862.5 642.3,866.5 647.6,869.2 648.9,873.2 643.6,875.8 638.3,879.8 639.6,885.1 638.9,890.4 635.6,891.8 633.0,889.1 629.0,885.1 623.7,882.5 615.7,881.1 609.0,881.1 603.7,878.5 597.0,875.8 593.1,873.2 583.7,871.8 578.4,867.8 573.1,868.5 566.5,869.2 561.1,872.5 554.5,871.8 547.8,867.8 547.8,861.2 545.2,854.5 539.9,851.9 533.2,850.5 527.9,847.9 526.6,842.6 522.6,838.6 517.2,842.6 511.9,846.6 514.6,854.5 509.3,857.2 503.9,861.2 500.0,859.9 493.3,862.5 492.0,869.2 485.3,874.5 480.0,871.8 475.0,870.0 465.0,865.0 455.0,862.5 447.5,852.5 442.5,845.0 435.0,842.5 430.0,852.5 427.5,865.0 432.5,875.0 425.0,880.0 417.5,890.0 405.0,892.5 395.0,890.0 387.5,880.0 380.0,872.5 375.0,875.0 362.5,877.5 350.0,873.8 335.0,870.0 322.5,865.0 307.5,860.0 300.0,852.5 293.8,845.0 295.0,835.0 291.2,825.0 293.8,815.0 290.0,803.8 295.0,800.0 285.0,797.5 275.0,792.5 265.0,793.8 250.0,795.0 235.0,800.0 225.0,810.0 217.5,807.5 207.5,812.5 195.0,815.0 180.0,815.0 175.0,810.0 165.0,810.0 155.0,816.2 140.0,812.5 130.0,815.0 125.0,825.0 122.5,832.5 110.0,836.2 100.0,833.8 95.0,827.5 92.5,820.0 87.5,815.0 77.5,810.0 66.2,805.0 57.5,800.0 55.0,792.5 47.5,785.0 40.0,780.0 31.2,776.2 40.0,770.0 37.5,757.5 32.5,747.5 22.5,745.0 17.5,737.5"/>
<polygon fill="#5a9b3f" points="107.5,780.0 100.0,765.0 102.5,750.0 110.0,735.0 120.0,722.5 140.0,710.0 162.5,700.0 187.5,695.0 212.5,690.0 235.0,692.5 252.5,700.0 262.5,712.5 265.0,725.0 272.5,730.0 287.5,740.0 300.0,750.0 317.5,772.5 318.8,805.0 275.0,795.0 250.0,797.5 235.0,802.5 225.0,812.5 217.5,810.0 207.5,815.0 195.0,817.5 180.0,817.5 175.0,812.5 165.0,812.5 160.0,800.0 160.0,780.0 140.0,775.0 125.0,780.0"/>
<polygon fill="#7db83b" points="182.5,782.5 200.0,767.5 225.0,752.5 250.0,740.0 260.0,735.0 262.5,727.5 265.0,725.0 272.5,730.0 265.0,750.0 250.0,765.0 237.5,775.0 212.5,782.5 190.0,790.0"/>
<polygon fill="#7db83b" points="135.0,760.0 140.0,740.0 145.0,740.0 140.0,762.5"/>
<polygon fill="#7db83b" points="150.0,757.5 160.0,740.0 165.0,742.5 155.0,760.0"/>
<polygon fill="#7db83b" points="225.0,745.0 240.0,732.5 257.5,730.0 260.0,735.0 245.0,740.0 232.5,750.0"/>
<polygon fill="#5a9b3f" points="60.0,795.0 75.0,790.0 100.0,795.0 117.5,802.5 130.0,815.0 122.5,832.5 110.0,837.5 100.0,835.0 92.5,821.2 77.5,811.2 66.2,806.2 57.5,800.0"/>
<polygon fill="#5a9b3f" points="272.5,660.0 287.5,650.0 307.5,642.5 325.0,640.0 345.0,645.0 360.0,657.5 367.5,672.5 372.5,687.5 365.0,705.0 350.0,715.0 345.0,730.0 337.5,735.0 320.0,737.5 300.0,735.0 282.5,725.0 275.0,715.0 272.5,700.0 290.0,695.0 292.5,687.5 280.0,677.5 271.2,667.5"/>
<polygon fill="#5a9b3f" points="217.5,562.5 230.0,560.0 240.0,567.5 250.0,562.5 270.0,565.0 285.0,565.0 292.5,575.0 300.0,582.5 295.0,587.5 282.5,587.5 272.5,582.5 260.0,582.5 265.0,590.0 275.0,595.0 287.5,595.0 297.5,600.0 307.5,597.5 325.0,600.0 342.5,605.0 355.0,612.5 345.0,615.0 327.5,612.5 315.0,612.5 300.0,615.0 287.5,612.5 277.5,605.0 262.5,610.0 250.0,602.5 237.5,595.0 230.0,585.0 222.5,575.0"/>
<polygon fill="#5a9b3f" points="167.5,620.0 180.0,617.5 185.0,612.5 190.0,620.0 200.0,620.0 212.5,625.0 225.0,630.0 220.0,640.0 207.5,637.5 195.0,635.0 185.0,630.0 175.0,627.5"/>
<polygon fill="#5a9b3f" points="205.0,595.0 215.0,587.5 225.0,590.0 222.5,600.0 210.0,600.0"/>
<polygon fill="#5a9b3f" points="170.0,592.5 185.0,595.0 200.0,602.5 195.0,607.5 180.0,602.5"/>
<polygon fill="#5a9b3f" points="135.0,655.0 150.0,647.5 170.0,642.5 190.0,640.0 205.0,637.5 220.0,640.0 225.0,647.5 210.0,652.5 190.0,650.0 175.0,655.0 160.0,657.5 145.0,662.5 135.0,665.0"/>
<polygon fill="#5a9b3f" points="140.0,675.0 160.0,667.5 180.0,665.0 190.0,672.5 175.0,677.5 155.0,680.0 140.0,685.0"/>
<polygon fill="#5a9b3f" points="207.5,655.0 225.0,650.0 240.0,652.5 235.0,665.0 220.0,667.5 210.0,662.5"/>
<polygon fill="#5a9b3f" points="240.0,647.5 255.0,640.0 265.0,650.0 257.5,660.0 245.0,657.5"/>
<polygon fill="#5a9b3f" points="245.0,667.5 260.0,662.5 267.5,672.5 257.5,680.0 247.5,677.5"/>
<polygon fill="#5a9b3f" points="120.0,680.0 140.0,687.5 160.0,685.0 165.0,692.5 145.0,697.5 125.0,692.5"/>
<polygon fill="#5a9b3f" points="185.0,680.0 200.0,675.0 220.0,677.5 225.0,685.0 205.0,687.5 190.0,687.5"/>
<polygon fill="#5a9b3f" points="250.0,687.5 270.0,685.0 290.0,687.5 295.0,700.0 275.0,702.5 257.5,697.5"/>
<polygon fill="#5a9b3f" points="357.5,615.0 367.5,620.0 370.0,630.0 362.5,627.5"/>
<polygon fill="#5a9b3f" points="385.0,625.0 392.5,630.0 395.0,640.0 387.5,637.5"/>
<polygon fill="#5a9b3f" points="372.5,660.0 385.0,655.0 400.0,657.5 395.0,667.5 380.0,670.0"/>
<polygon fill="#5a9b3f" points="255.0,505.0 261.2,497.5 265.0,510.0 260.0,517.5"/>
<polygon fill="#5a9b3f" points="200.0,552.5 205.0,550.0 203.8,565.0 200.0,567.5"/>
<polygon fill="#5a9b3f" points="248.8,540.0 255.0,538.8 253.8,547.5"/>
<polygon fill="#5a9b3f" points="75.0,702.5 95.0,695.0 115.0,690.0 140.0,687.5 140.0,693.8 120.0,697.5 100.0,702.5 82.5,710.0"/>
<polygon fill="#5a9b3f" points="82.5,715.0 105.0,707.5 130.0,702.5 150.0,700.0 140.0,707.5 120.0,712.5 100.0,717.5 85.0,722.5"/>
<polygon fill="#5a9b3f" points="32.5,722.5 42.5,717.5 47.5,735.0 42.5,747.5 35.0,740.0"/>
<polygon fill="#5a9b3f" points="57.5,740.0 67.5,737.5 70.0,750.0 62.5,757.5 57.5,750.0"/>
<polygon fill="#5a9b3f" points="77.5,770.0 85.0,765.0 92.5,780.0 87.5,790.0 80.0,785.0"/>
<polygon fill="#5a9b3f" points="22.5,715.0 30.0,712.5 32.5,722.5 25.0,725.0"/>
<polygon fill="#5a9b3f" points="372.5,620.0 380.0,617.5 392.5,622.5 402.5,642.5 405.0,660.0 395.0,670.0 380.0,672.5 370.0,670.0"/>
<polygon fill="#5a9b3f" points="405.0,655.0 425.0,652.5 430.0,667.5 420.0,670.0 410.0,665.0"/>
<polygon fill="#5a9b3f" points="433.8,670.0 450.0,660.0 467.5,657.5 480.0,665.0 475.0,677.5 465.0,690.0 450.0,695.0 440.0,687.5 430.0,680.0"/>
<polygon fill="#5a9b3f" points="467.5,665.0 490.0,657.5 510.0,667.5 520.0,680.0 515.0,690.0 505.0,700.0 520.0,707.5 510.0,715.0 495.0,720.0 480.0,710.0 475.0,700.0 485.0,690.0 480.0,677.5"/>
<polygon fill="#5a9b3f" points="415.0,695.0 430.0,690.0 437.5,700.0 425.0,705.0"/>
<polygon fill="#5a9b3f" points="365.0,710.0 380.0,707.5 395.0,700.0 407.5,710.0 420.0,722.5 417.5,735.0 405.0,750.0 390.0,752.5 380.0,750.0 360.0,745.0"/>
<polygon fill="#5a9b3f" points="402.5,725.0 412.5,722.5 430.0,730.0 420.0,740.0"/>
<polygon fill="#5a9b3f" points="420.0,750.0 440.0,742.5 455.0,747.5 450.0,760.0 430.0,765.0 417.5,760.0"/>
<polygon fill="#5a9b3f" points="367.5,762.5 380.0,760.0 395.0,767.5 405.0,777.5 395.0,785.0 380.0,782.5 370.0,780.0"/>
<polygon fill="#5a9b3f" points="395.0,777.5 415.0,772.5 427.5,780.0 422.5,790.0 405.0,792.5"/>
<polygon fill="#5a9b3f" points="387.5,797.5 407.5,800.0 425.0,810.0 435.0,825.0 420.0,835.0 405.0,837.5 402.5,825.0 387.5,812.5"/>
<polygon fill="#5a9b3f" points="467.5,780.0 480.0,777.5 485.0,787.5 472.5,790.0"/>
<polygon fill="#5a9b3f" points="450.0,792.5 457.5,790.0 462.5,807.5 455.0,810.0"/>
<polygon fill="#5a9b3f" points="535.0,710.0 545.0,707.5 560.0,722.5 570.0,740.0 560.0,742.5 550.0,732.5"/>
<polygon fill="#5a9b3f" points="530.0,752.5 542.5,750.0 555.0,757.5 560.0,765.0 545.0,767.5 532.5,762.5"/>
<polygon fill="#5a9b3f" points="487.5,840.0 497.5,837.5 502.5,847.5 492.5,850.0"/>
<polygon fill="#5a9b3f" points="290.0,800.0 302.5,797.5 315.0,800.0 327.5,795.0 345.0,782.5 370.0,775.0 390.0,772.5 400.0,782.5 420.0,787.5 430.0,795.0 420.0,805.0 405.0,807.5 420.0,817.5 430.0,825.0 420.0,837.5 400.0,835.0 382.5,830.0 370.0,817.5 355.0,810.0 345.0,817.5 352.5,830.0 365.0,825.0 377.5,835.0 387.5,850.0 380.0,857.5 365.0,852.5 352.5,842.5 342.5,847.5 335.0,860.0 327.5,865.0 312.5,860.0 302.5,855.0 295.0,842.5 292.5,825.0 290.0,810.0"/>
<polygon fill="#5a9b3f" points="270.0,700.0 340.0,700.0 345.0,715.0 340.0,730.0 320.0,742.5 302.5,747.5 305.0,760.0 312.5,775.0 315.0,795.0 295.0,797.5 270.0,792.5"/>
<polygon fill="#5a9b3f" points="352.5,742.5 370.0,735.0 390.0,732.5 410.0,740.0 430.0,745.0 445.0,742.5 455.0,750.0 445.0,762.5 425.0,767.5 400.0,765.0 380.0,760.0 365.0,760.0 345.0,770.0 327.5,780.0 320.0,775.0 330.0,762.5 345.0,750.0"/>
<polygon fill="#5a9b3f" points="395.0,775.0 410.0,770.0 425.0,777.5 420.0,787.5 405.0,787.5"/>
<polygon fill="#5a9b3f" points="467.5,780.0 477.5,775.0 485.0,785.0 475.0,790.0"/>
<polygon fill="#5a9b3f" points="452.5,792.5 462.5,790.0 465.0,805.0 457.5,810.0"/>
<polygon fill="#5a9b3f" points="400.0,725.0 412.5,722.5 417.5,737.5 410.0,742.5 402.5,735.0"/>
<polygon fill="#5a9b3f" points="485.0,837.5 495.0,835.0 500.0,845.0 490.0,850.0"/>
<polygon fill="#5a9b3f" points="335.0,850.0 352.5,847.5 370.0,857.5 387.5,860.0 385.0,870.0 365.0,870.0 345.0,867.5 330.0,862.5"/>
<polygon fill="#5a9b3f" points="840.0,382.5 850.0,375.0 880.0,372.5 902.5,382.5 920.0,397.5 930.0,417.5 935.0,432.5 925.0,437.5 920.0,425.0 910.0,425.0 900.0,432.5 885.0,432.5 870.0,430.0 865.0,410.0 855.0,400.0 845.0,395.0"/>
<polygon fill="#7db83b" points="875.0,392.5 890.0,390.0 895.0,400.0 880.0,405.0"/>
<polygon fill="#7db83b" points="885.0,410.0 897.5,407.5 900.0,420.0 887.5,422.5"/>
<polygon fill="#7db83b" points="905.0,390.0 912.5,397.5 915.0,412.5 907.5,410.0"/>
<polygon fill="#5a9b3f" points="895.0,435.0 910.0,426.2 922.5,437.5 920.0,452.5 910.0,465.0 900.0,467.5 895.0,455.0"/>
<polygon fill="#5a9b3f" points="822.5,425.0 835.0,410.0 850.0,407.5 852.5,425.0 840.0,435.0 827.5,442.5 817.5,445.0"/>
<polygon fill="#5a9b3f" points="850.0,432.5 862.5,425.0 865.0,442.5 852.5,447.5"/>
<polygon fill="#5a9b3f" points="845.0,477.5 857.5,470.0 875.0,467.5 890.0,470.0 885.0,480.0 895.0,487.5 885.0,492.5 870.0,490.0 860.0,500.0 847.5,495.0 840.0,490.0"/>
<polygon fill="#5a9b3f" points="827.5,467.5 845.0,465.0 840.0,475.0 830.0,477.5"/>
<polygon fill="#5a9b3f" points="750.0,480.0 765.0,477.5 775.0,487.5 790.0,490.0 805.0,500.0 800.0,510.0 785.0,512.5 775.0,505.0 765.0,512.5 755.0,510.0 747.5,515.0 752.5,500.0"/>
<polygon fill="#5a9b3f" points="810.0,512.5 822.5,505.0 835.0,502.5 837.5,517.5 832.5,530.0 825.0,535.0 812.5,532.5 807.5,522.5"/>
<polygon fill="#5a9b3f" points="842.5,525.0 852.5,520.0 857.5,525.0 850.0,535.0 845.0,532.5"/>
<polygon fill="#5a9b3f" points="797.5,470.0 815.0,465.0 817.5,475.0 805.0,482.5"/>
<polygon fill="#5a9b3f" points="867.5,457.5 880.0,455.0 890.0,460.0 880.0,465.0"/>
<polygon fill="#5a9b3f" points="955.0,497.5 962.5,495.0 967.5,502.5 962.5,510.0 957.5,505.0"/>
<polygon fill="#5a9b3f" points="930.0,432.5 940.0,442.5 937.5,447.5 927.5,440.0"/>
<polygon fill="#5a9b3f" points="925.0,460.0 935.0,462.5 937.5,472.5 927.5,470.0"/>
<polygon fill="#5a9b3f" points="940.0,650.0 952.5,642.5 960.0,647.5 955.0,660.0 945.0,662.5"/>
<polygon fill="#5a9b3f" points="930.0,662.5 940.0,665.0 937.5,670.0 927.5,668.8"/>
<polygon fill="#5a9b3f" points="950.0,630.0 960.0,627.5 965.0,635.0 955.0,637.5"/>
<polygon fill="#5a9b3f" points="990.0,635.0 1000.0,632.5 1005.0,637.5 995.0,641.2"/>
<polygon fill="#5a9b3f" points="947.5,637.5 957.5,635.0 960.0,645.0 950.0,647.5"/>
<filter id="mdg" x="0" y="0" width="1" height="1" color-interpolation-filters="sRGB"><feTurbulence type="fractalNoise" baseFrequency="0.07" numOctaves="2" seed="21" result="n"/><feColorMatrix in="n" type="matrix" values="0 0 0 0 0.353 0 0 0 0 0.608 0 0 0 0 0.247 14.00 0 0 0 -7.200" result="c"/><feComponentTransfer in="c" result="t"><feFuncA type="discrete" tableValues="0 1"/></feComponentTransfer><feComposite in="t" in2="SourceGraphic" operator="in"/></filter>
<filter id="mdg2" x="0" y="0" width="1" height="1" color-interpolation-filters="sRGB"><feTurbulence type="fractalNoise" baseFrequency="0.09" numOctaves="2" seed="33" result="n"/><feColorMatrix in="n" type="matrix" values="0 0 0 0 0.353 0 0 0 0 0.608 0 0 0 0 0.247 14.00 0 0 0 -7.620" result="c"/><feComponentTransfer in="c" result="t"><feFuncA type="discrete" tableValues="0 1"/></feComponentTransfer><feComposite in="t" in2="SourceGraphic" operator="in"/></filter>
<polygon fill="#5a9b3f" points="745.0,475.0 765.0,470.0 790.0,470.0 805.0,455.0 815.0,435.0 822.5,422.5 835.0,405.0 840.0,385.0 850.0,375.0 880.0,371.2 902.5,381.2 920.0,397.5 932.5,417.5 940.0,437.5 945.0,455.0 940.0,477.5 920.0,477.5 910.0,490.0 902.5,502.5 880.0,502.5 860.0,505.0 860.0,535.0 845.0,542.5 815.0,538.8 805.0,532.5 785.0,520.0 762.5,522.5 750.0,527.5 743.8,520.0" filter="url(#mdg)"/>
<polygon fill="#5a9b3f" points="920.0,625.0 965.0,620.0 990.0,630.0 980.0,657.5 955.0,677.5 930.0,675.0 915.0,650.0" filter="url(#mdg2)"/>
<polygon fill="#5a9b3f" points="945.0,480.0 965.0,485.0 975.0,500.0 965.0,515.0 952.5,510.0 947.5,495.0" filter="url(#mdg2)"/>
<polygon fill="#5a9b3f" points="130.0,590.0 175.0,590.0 225.0,580.0 250.0,615.0 275.0,630.0 270.0,690.0 175.0,700.0 120.0,690.0 130.0,660.0 140.0,630.0" filter="url(#mdg2)"/>
<polygon fill="#5a9b3f" points="15.0,715.0 75.0,695.0 140.0,685.0 155.0,705.0 105.0,745.0 95.0,795.0 50.0,780.0 25.0,745.0" filter="url(#mdg2)"/>
<polygon fill="#5a9b3f" points="380.0,665.0 430.0,655.0 530.0,670.0 555.0,700.0 570.0,745.0 530.0,770.0 480.0,810.0 430.0,835.0 380.0,840.0" filter="url(#mdg2)"/>
<filter id="mm1" x="0" y="0" width="1" height="1" color-interpolation-filters="sRGB"><feTurbulence type="fractalNoise" baseFrequency="0.3" numOctaves="2" seed="2" result="n"/><feColorMatrix in="n" type="matrix" values="0 0 0 0 0.725 0 0 0 0 0.827 0 0 0 0 0.302 14.00 0 0 0 -5.380" result="c"/><feComponentTransfer in="c" result="t"><feFuncA type="discrete" tableValues="0 1"/></feComponentTransfer><feComposite in="t" in2="SourceGraphic" operator="in"/></filter>
<filter id="mm2" x="0" y="0" width="1" height="1" color-interpolation-filters="sRGB"><feTurbulence type="fractalNoise" baseFrequency="0.35" numOctaves="1" seed="5" result="n"/><feColorMatrix in="n" type="matrix" values="0 0 0 0 0.957 0 0 0 0 0.698 0 0 0 0 0.243 14.00 0 0 0 -8.320" result="c"/><feComponentTransfer in="c" result="t"><feFuncA type="discrete" tableValues="0 1"/></feComponentTransfer><feComposite in="t" in2="SourceGraphic" operator="in"/></filter>
<polygon fill="#b9d34d" points="720.0,752.0 728.0,733.0 742.0,725.0 758.0,724.0 768.0,738.0 760.0,756.0 748.0,772.0 737.0,784.0 728.0,795.0 720.0,787.0 722.0,768.0" filter="url(#mm1)"/>
<polygon fill="#f4b23e" points="720.0,752.0 728.0,733.0 742.0,725.0 758.0,724.0 768.0,738.0 760.0,756.0 748.0,772.0 737.0,784.0 728.0,795.0 720.0,787.0 722.0,768.0" filter="url(#mm2)"/>
<polygon fill="#b9d34d" points="612.5,831.2 630.0,821.2 645.0,821.2 651.2,830.0 635.0,841.2 618.8,841.2" filter="url(#mm1)"/>
<polygon fill="#f4b23e" points="612.5,831.2 630.0,821.2 645.0,821.2 651.2,830.0 635.0,841.2 618.8,841.2" filter="url(#mm2)"/>
<polygon fill="#b9d34d" points="651.2,820.0 662.5,810.0 672.5,795.0 677.5,780.0 685.0,770.0 691.2,767.0 688.8,777.5 681.2,790.0 676.2,805.0 663.8,821.2 655.0,826.2" filter="url(#mm1)"/>
<circle cx="617" cy="838" r="1.6" fill="#e7382d"/>
<circle cx="626" cy="836" r="2" fill="#e7382d"/>
<circle cx="640" cy="830" r="1.6" fill="#e7382d"/>
<circle cx="727" cy="778" r="1.5" fill="#e7382d"/>
<circle cx="733" cy="765" r="1.3" fill="#e7382d"/>
<circle cx="741" cy="752" r="1.3" fill="#e7382d"/>
<circle cx="747" cy="741" r="1.2" fill="#e7382d"/>
<circle cx="752" cy="735" r="1.2" fill="#e7382d"/>
<circle cx="756" cy="700" r="1.5" fill="#e7382d"/>
<circle cx="663" cy="808" r="1.2" fill="#e7382d"/>
<circle cx="674" cy="694" r="1.2" fill="#e7382d"/>
<circle cx="256" cy="625" r="1.5" fill="#e7382d"/>
<circle cx="517" cy="800" r="1.2" fill="#e7382d"/>
<circle cx="537" cy="800" r="1.1" fill="#e7382d"/>
<circle cx="887" cy="538" r="1.3" fill="#e7382d"/>
<circle cx="934" cy="578" r="1.6" fill="#e7382d"/>
<circle cx="910" cy="625" r="1.4" fill="#e7382d"/>
<circle cx="860" cy="628" r="1.2" fill="#e7382d"/>
<circle cx="870" cy="829" r="1.2" fill="#e7382d"/>
<circle cx="878" cy="673" r="1.1" fill="#e7382d"/>
<circle cx="1063" cy="585" r="1" fill="#e7382d"/>
</g>
<g clip-path="url(#mapclip)">
<clipPath id="hatch"><polygon points="561.2,677.5 565.0,675.0 577.5,670.0 590.0,665.0 600.0,661.2 617.5,658.8 630.0,657.5 642.5,653.8 650.0,648.8 660.0,640.0 670.0,632.5 678.8,626.2 677.5,620.0 671.2,612.5 670.0,605.0 677.5,597.5 687.5,595.0 695.0,600.0 705.0,603.8 712.5,600.0 720.0,592.5 730.0,585.0 742.5,583.8 750.0,575.0 757.5,567.5 765.0,563.8 780.0,560.0 790.0,557.5 800.0,552.5 810.0,556.2 817.5,555.0 817.5,558.8 818.8,567.5 812.5,577.5 806.2,587.5 812.5,595.0 822.5,607.5 832.5,620.0 835.0,627.5 827.5,635.0 826.2,645.0 832.5,652.5 833.8,661.2 825.0,665.0 812.5,660.0 806.2,666.2 807.5,677.5 802.5,685.0 803.8,695.0 800.0,702.5 790.0,706.2 782.5,710.0 777.5,720.0 775.0,730.0 767.5,727.5 765.0,720.0 760.0,715.0 752.5,715.0 752.5,722.5 747.5,725.0 740.0,720.0 780.0,710.0 770.0,722.5 755.0,720.0 747.5,715.0 735.0,720.0 725.0,725.0 715.0,732.5 705.0,737.5 695.0,735.0 682.5,737.5 675.0,746.2 662.5,745.0 655.0,755.0 642.5,762.5 630.0,772.5 620.0,775.0 610.0,773.8 607.5,780.0 600.0,777.5 602.5,767.5 597.5,760.0 587.5,752.5 592.5,740.0 587.5,735.0 588.8,722.5 587.5,707.5 577.5,700.0 565.0,692.5 561.2,677.5"/></clipPath>
<g clip-path="url(#hatch)" stroke="#eef0a6" stroke-width="1.35">
<line x1="574.40" y1="540" x2="574.40" y2="800"/>
<line x1="588.15" y1="540" x2="588.15" y2="800"/>
<line x1="601.90" y1="540" x2="601.90" y2="800"/>
<line x1="615.65" y1="540" x2="615.65" y2="800"/>
<line x1="629.40" y1="540" x2="629.40" y2="800"/>
<line x1="643.15" y1="540" x2="643.15" y2="800"/>
<line x1="656.90" y1="540" x2="656.90" y2="800"/>
<line x1="670.65" y1="540" x2="670.65" y2="800"/>
<line x1="684.40" y1="540" x2="684.40" y2="800"/>
<line x1="698.15" y1="540" x2="698.15" y2="800"/>
<line x1="711.90" y1="540" x2="711.90" y2="800"/>
<line x1="725.65" y1="540" x2="725.65" y2="800"/>
<line x1="739.40" y1="540" x2="739.40" y2="800"/>
<line x1="753.15" y1="540" x2="753.15" y2="800"/>
<line x1="766.90" y1="540" x2="766.90" y2="800"/>
<line x1="780.65" y1="540" x2="780.65" y2="800"/>
<line x1="794.40" y1="540" x2="794.40" y2="800"/>
<line x1="808.15" y1="540" x2="808.15" y2="800"/>
<line x1="821.90" y1="540" x2="821.90" y2="800"/>
</g>
<polyline points="412.8,662.5 405.0,665.0 390.0,675.0 375.0,682.5 365.0,697.5 350.0,702.5 345.0,717.5 340.0,732.5 355.0,735.0 360.0,740.0 375.0,745.0 390.0,750.0 412.8,757.5" fill="none" stroke="#3f4a22" stroke-width="0.8" stroke-linejoin="round"/>
<polyline points="340.0,733.0 322.5,737.5 302.5,747.5 306.2,757.5 308.8,765.0 320.0,775.0 315.0,787.5 317.5,800.0" fill="none" stroke="#3f4a22" stroke-width="0.8" stroke-linejoin="round"/>
<polyline points="423.8,651.2 430.0,667.5 440.0,690.0 447.5,700.0 462.5,695.0 472.5,690.0 475.0,702.5 465.0,715.0 475.0,722.5 485.0,725.0 500.0,735.0 505.0,740.0 520.0,732.5 535.0,727.5 545.0,732.5 540.0,745.0 530.0,755.0 535.0,765.0 550.0,772.5 560.0,785.0 570.0,800.0 580.0,812.5 587.5,810.0" fill="none" stroke="#3f4a22" stroke-width="0.8" stroke-linejoin="round"/>
<polyline points="380.0,750.0 395.0,752.5 415.0,745.0 420.0,735.0 440.0,730.0 455.0,740.0 475.0,750.0 485.0,757.5 497.5,767.5 510.0,777.5 520.0,790.0 522.5,800.0 515.0,810.0 520.0,820.0" fill="none" stroke="#3f4a22" stroke-width="0.8" stroke-linejoin="round"/>
<polyline points="587.5,732.5 580.0,745.0 575.0,757.5 570.0,770.0 555.0,772.5" fill="none" stroke="#3f4a22" stroke-width="0.8" stroke-linejoin="round"/>
<polyline points="585.0,780.0 597.5,778.8 605.0,785.0 620.0,790.0 622.5,800.0 620.0,815.0 605.0,820.0 587.5,825.0 585.0,835.0" fill="none" stroke="#3f4a22" stroke-width="0.8" stroke-linejoin="round"/>
<polyline points="655.0,854.8 652.5,835.0 653.8,810.0 652.5,785.0 655.0,767.5 655.0,755.0 662.5,740.0 670.0,735.0 680.0,715.0 695.0,707.5 712.5,700.0 717.5,685.0 715.0,672.5 730.0,667.5 735.0,675.0 750.0,670.0 765.0,665.0 770.0,657.5 785.0,655.0 792.8,665.0" fill="none" stroke="#3f4a22" stroke-width="0.8" stroke-linejoin="round"/>
<polyline points="710.0,745.0 707.5,760.0 715.0,770.0 712.5,785.0 717.5,792.5" fill="none" stroke="#3f4a22" stroke-width="0.8" stroke-linejoin="round"/>
<polyline points="842.5,395.0 852.5,405.0 860.0,401.2 865.0,410.0 867.5,422.5 872.5,432.5 885.0,435.0 900.0,432.5 910.0,425.0 920.0,435.0 922.5,442.5 915.0,455.0 910.0,467.5 907.5,480.0 905.0,490.0 900.0,500.0 897.5,517.5 892.5,510.0 880.0,522.5 870.0,530.0 862.5,537.5 870.0,550.0 880.0,547.5 880.0,555.0 870.0,560.0 875.0,567.5 885.0,565.0 890.0,580.0 902.5,587.5 915.0,585.0 920.0,592.5 935.0,595.0 945.0,605.0 955.0,617.5 962.5,610.0 970.0,625.0 975.0,630.0 985.0,625.0 995.0,620.0 1002.5,632.5 1012.5,635.0" fill="none" stroke="#3f4a22" stroke-width="0.8" stroke-linejoin="round"/>
<polyline points="870.0,560.0 865.0,572.5 857.5,577.5 850.0,575.0 855.0,585.0 852.5,595.0 857.5,610.0 870.0,615.0 877.5,625.0 880.0,635.0 890.0,640.0 900.0,647.5 905.0,654.8" fill="none" stroke="#3f4a22" stroke-width="0.8" stroke-linejoin="round"/>
<polyline points="880.0,620.0 882.5,635.0 900.0,642.5 907.5,657.5 915.0,675.0 920.0,692.5" fill="none" stroke="#3f4a22" stroke-width="0.8" stroke-linejoin="round"/>
<polyline points="882.5,635.0 870.0,647.5 857.5,652.5 845.0,655.0 837.5,662.5 822.5,665.0 815.0,660.0 810.0,662.5" fill="none" stroke="#3f4a22" stroke-width="0.8" stroke-linejoin="round"/>
<polyline points="765.0,670.0 777.5,657.5 785.0,662.5 790.0,677.5 797.5,685.0 810.0,702.5 815.0,715.0" fill="none" stroke="#3f4a22" stroke-width="0.8" stroke-linejoin="round"/>
<polyline points="740.0,675.0 755.0,670.0 765.0,670.0" fill="none" stroke="#3f4a22" stroke-width="0.8" stroke-linejoin="round"/>
<polyline points="317.5,800.0 332.5,802.5 350.0,805.0 370.0,810.0 390.0,815.0 400.0,822.5 412.8,817.5" fill="none" stroke="#10100a" stroke-width="1.5" stroke-linejoin="round" stroke-dasharray="3.2 3.6"/>
<polyline points="380.0,812.5 392.5,815.0 400.0,822.5 412.5,817.5 430.0,815.0 445.0,812.5 460.0,812.5 470.0,820.0 485.0,815.0 490.0,825.0 505.0,817.5 520.0,817.5 535.0,822.5 540.0,832.5 555.0,837.5 570.0,837.5 585.0,840.0 600.0,842.5 615.0,835.0 630.0,830.0 645.0,822.5 655.0,815.0 667.5,802.5 672.5,785.0 680.0,772.5 690.0,765.0 692.5,755.0 695.0,745.0 705.0,740.0" fill="none" stroke="#10100a" stroke-width="1.5" stroke-linejoin="round" stroke-dasharray="3.2 3.6"/>
<polyline points="725.0,757.5 727.5,745.0 737.5,737.5 747.5,732.5" fill="none" stroke="#10100a" stroke-width="1.5" stroke-linejoin="round" stroke-dasharray="3.2 3.6"/>
<polyline points="926.2,440.0 925.0,452.5 920.0,460.0 922.5,470.0 930.0,477.5 937.5,487.5 947.5,495.0 950.0,507.5 957.5,520.0 962.5,532.5 970.0,542.5 977.5,552.5 986.2,553.8 990.0,540.0 990.0,525.0 988.8,515.0 997.5,516.2 1005.0,513.8" fill="none" stroke="#10100a" stroke-width="1.5" stroke-linejoin="round" stroke-dasharray="3.2 3.6"/>
<polyline points="967.5,654.8 972.5,645.0 977.5,635.0" fill="none" stroke="#10100a" stroke-width="1.5" stroke-linejoin="round" stroke-dasharray="3.2 3.6"/>
<polyline points="967.5,652.5 980.0,640.0 977.5,635.0" fill="none" stroke="#10100a" stroke-width="1.5" stroke-linejoin="round" stroke-dasharray="3.2 3.6"/>
<polyline points="857.5,697.5 862.5,705.0 865.0,712.5 875.0,713.8 887.5,713.0" fill="none" stroke="#10100a" stroke-width="1.5" stroke-linejoin="round" stroke-dasharray="3.2 3.6"/>
<polyline points="740.0,765.0 750.0,755.0 760.0,747.5" fill="none" stroke="#10100a" stroke-width="1.5" stroke-linejoin="round" stroke-dasharray="3.2 3.6"/>
<polyline points="817.5,558.8 818.8,567.5 812.5,577.5 806.2,587.5 812.5,595.0 822.5,607.5 832.5,620.0 835.0,627.5 827.5,635.0 826.2,645.0 832.5,652.5 833.8,661.2 825.0,665.0 812.5,660.0 806.2,666.2 807.5,677.5 802.5,685.0 803.8,695.0 800.0,702.5 790.0,706.2 782.5,710.0 777.5,720.0 775.0,730.0 767.5,727.5 765.0,720.0 760.0,715.0 752.5,715.0 752.5,722.5 747.5,725.0 740.0,720.0 780.0,710.0 770.0,722.5 755.0,720.0 747.5,715.0 735.0,720.0 725.0,725.0 715.0,732.5 705.0,737.5 695.0,735.0 682.5,737.5 675.0,746.2 662.5,745.0 655.0,755.0 642.5,762.5 630.0,772.5 620.0,775.0 610.0,773.8 607.5,780.0 600.0,777.5 602.5,767.5 597.5,760.0 587.5,752.5 592.5,740.0 587.5,735.0 588.8,722.5 587.5,707.5 577.5,700.0 565.0,692.5 561.2,677.5" fill="none" stroke="#2d5bab" stroke-width="2.4" stroke-dasharray="6 3.2"/>
<polygon fill="#e7382d" points="751.8,683.2 755.5,694.7 767.6,694.7 757.8,701.8 761.6,713.2 751.8,706.1 742.0,713.2 745.8,701.8 736.0,694.7 748.1,694.7"/>
</g>
<polygon points="767.5,671.25 686.25,753.75 730,798.75 811.25,716.25" fill="none" stroke="#b5391f" stroke-width="1.3"/>
<polygon points="676.25,746.25 588.75,835 620,867.5 707.5,778.75" fill="none" stroke="#b5391f" stroke-width="1.3"/>
<rect x="48" y="713.75" width="26.5" height="21.25" fill="none" stroke="#b5391f" stroke-width="1.3"/>
<rect x="74.5" y="727.5" width="14.75" height="36.25" fill="none" stroke="#b5391f" stroke-width="1.3"/>
<rect x="113.25" y="762" width="23.0" height="14.25" fill="none" stroke="#b5391f" stroke-width="1.3"/>
<polygon fill="#b9d34d" points="54.0,729.0 60.0,722.0 66.0,722.0 70.0,726.0 62.0,731.0" opacity="0.7"/>
<rect fill="#f4b23e" x="55.0" y="726.0" width="3.0" height="2.0"/>
<polygon fill="#b9d34d" points="77.0,760.0 79.0,745.0 83.0,736.0 86.0,740.0 83.0,752.0 82.0,763.0" opacity="0.8"/>
<rect fill="#f4b23e" x="78.5" y="750.0" width="2.0" height="12.0"/>
<polygon fill="#b9d34d" points="115.0,771.0 122.0,768.0 133.0,766.0 128.0,773.0 120.0,776.0" opacity="0.7"/>
<rect fill="#f4b23e" x="117.0" y="774.0" width="11.0" height="4.0"/>
<rect fill="#e7382d" x="120.0" y="775.5" width="5.0" height="1.5"/>
<polygon points="13.8,727.5 18.8,720.0 22.5,712.5 32.5,707.5 42.5,701.2 48.8,700.0 51.2,706.2 62.5,705.0 68.8,693.8 82.5,688.8 92.5,682.5 105.0,675.0 117.5,666.2 126.2,661.2 130.0,650.0 135.0,643.8 138.8,640.0 138.8,630.0 135.0,615.0 132.5,602.5 125.0,598.8 130.0,595.0 142.5,592.5 156.2,588.8 162.5,590.0 170.0,591.2 165.0,580.0 170.0,565.0 175.0,550.0 177.5,542.5 190.0,545.0 200.0,547.5 212.5,548.8 223.8,541.2 222.5,522.5 226.2,512.5 237.5,505.0 243.8,500.0 242.5,493.8 250.0,491.2 261.2,491.2 262.5,500.0 265.0,506.2 275.0,512.5 287.5,520.0 297.5,523.8 302.5,527.5 307.5,537.5 315.0,552.5 317.5,560.0 315.0,572.5 311.2,582.5 315.0,587.5 322.5,592.5 335.0,596.2 350.0,596.2 362.5,600.0 375.0,607.5 390.0,615.0 395.0,625.0 400.0,637.5 410.0,647.5 412.5,652.5 425.0,651.2 442.5,653.8 462.5,655.0 480.0,653.8 492.5,655.0 505.0,660.0 517.5,665.0 530.0,670.0 542.5,672.5 552.5,671.2 557.5,677.5 565.0,675.0 577.5,670.0 590.0,665.0 600.0,661.2 617.5,658.8 630.0,657.5 642.5,653.8 650.0,648.8 660.0,640.0 670.0,632.5 678.8,626.2 677.5,620.0 671.2,612.5 670.0,605.0 677.5,597.5 687.5,595.0 695.0,600.0 705.0,603.8 712.5,600.0 720.0,592.5 730.0,585.0 742.5,583.8 750.0,575.0 757.5,567.5 765.0,563.8 780.0,560.0 790.0,557.5 800.0,552.5 810.0,556.2 817.5,555.0 815.0,547.5 810.0,540.0 805.0,532.5 795.0,525.0 785.0,521.2 777.5,525.0 772.5,530.0 762.5,525.0 750.0,530.0 742.5,520.0 747.5,510.0 752.5,495.0 757.5,482.5 762.5,473.8 772.5,477.5 780.0,482.5 790.0,475.0 800.0,467.5 807.5,460.0 805.0,455.0 810.0,445.0 815.0,435.0 820.0,425.0 827.5,415.0 832.5,405.0 830.0,397.5 822.5,397.5 820.0,392.5 827.5,385.0 835.0,377.5 845.0,375.0 857.5,372.5 872.5,370.0 882.5,370.0 892.5,375.0 900.0,380.0 915.0,385.0 922.5,392.5 927.5,402.5 932.5,415.0 937.5,427.5 940.0,437.5 945.0,447.5 947.5,460.0 952.5,472.5 960.0,480.0 972.5,482.5 982.5,485.0 990.0,490.0 1000.0,497.5 1005.0,507.5 1005.0,517.5 1010.0,527.5 1020.0,530.0 1032.5,527.5 1040.0,522.5 1047.5,517.5 1060.0,515.0 1070.0,512.5 1078.8,510.0 1075.0,520.0 1073.8,532.5 1065.0,542.5 1062.5,555.0 1060.0,567.5 1055.0,577.5 1050.0,585.0 1045.0,596.2 1035.0,592.5 1022.5,595.0 1012.5,600.0 1010.0,607.5 1013.8,620.0 1015.0,635.0 1010.0,645.0 1000.0,652.5 1003.8,657.5 995.0,652.5 990.0,647.5 987.5,657.5 980.0,660.0 970.0,665.0 962.5,670.0 960.0,680.0 945.0,682.5 940.0,673.8 932.5,680.0 930.0,687.5 925.0,692.5 915.0,697.5 907.5,702.5 900.0,710.0 895.0,715.0 887.5,717.5 880.0,720.0 870.0,722.5 860.0,727.5 852.5,732.5 845.0,740.0 837.5,742.5 840.0,736.2 847.5,732.5 840.0,725.0 845.0,720.0 852.5,712.5 857.5,705.0 853.8,697.5 845.0,693.8 837.5,697.5 830.0,705.0 820.0,712.5 812.5,716.2 807.7,723.6 806.7,727.3 798.3,733.8 793.7,734.8 789.0,736.6 785.3,732.9 781.6,733.8 779.7,739.4 777.8,745.0 777.8,749.7 783.4,751.6 779.7,757.2 772.2,761.8 763.8,762.8 754.5,769.3 748.0,775.8 741.5,785.1 738.7,792.6 740.0,798.8 730.0,797.5 717.5,792.5 710.0,797.5 705.0,810.0 700.0,816.0 690.2,817.3 682.2,818.6 679.5,822.6 672.9,826.6 666.2,829.3 656.9,831.9 652.9,834.6 655.6,839.9 658.2,845.2 662.2,850.5 663.6,857.2 658.2,861.2 651.6,862.5 643.6,861.2 638.3,862.5 642.3,866.5 647.6,869.2 648.9,873.2 643.6,875.8 638.3,879.8 639.6,885.1 638.9,890.4 635.6,891.8 633.0,889.1 629.0,885.1 623.7,882.5 615.7,881.1 609.0,881.1 603.7,878.5 597.0,875.8 593.1,873.2 583.7,871.8 578.4,867.8 573.1,868.5 566.5,869.2 561.1,872.5 554.5,871.8 547.8,867.8 547.8,861.2 545.2,854.5 539.9,851.9 533.2,850.5 527.9,847.9 526.6,842.6 522.6,838.6 517.2,842.6 511.9,846.6 514.6,854.5 509.3,857.2 503.9,861.2 500.0,859.9 493.3,862.5 492.0,869.2 485.3,874.5 480.0,871.8 475.0,870.0 465.0,865.0 455.0,862.5 447.5,852.5 442.5,845.0 435.0,842.5 430.0,852.5 427.5,865.0 432.5,875.0 425.0,880.0 417.5,890.0 405.0,892.5 395.0,890.0 387.5,880.0 380.0,872.5 375.0,875.0 362.5,877.5 350.0,873.8 335.0,870.0 322.5,865.0 307.5,860.0 300.0,852.5 293.8,845.0 295.0,835.0 291.2,825.0 293.8,815.0 290.0,803.8 295.0,800.0 285.0,797.5 275.0,792.5 265.0,793.8 250.0,795.0 235.0,800.0 225.0,810.0 217.5,807.5 207.5,812.5 195.0,815.0 180.0,815.0 175.0,810.0 165.0,810.0 155.0,816.2 140.0,812.5 130.0,815.0 125.0,825.0 122.5,832.5 110.0,836.2 100.0,833.8 95.0,827.5 92.5,820.0 87.5,815.0 77.5,810.0 66.2,805.0 57.5,800.0 55.0,792.5 47.5,785.0 40.0,780.0 31.2,776.2 40.0,770.0 37.5,757.5 32.5,747.5 22.5,745.0 17.5,737.5" fill="none" stroke="#12120c" stroke-width="1.8" stroke-linejoin="round"/>
<text x="29.8" y="726.2" font-size="31.5">a</text>
<text x="96.3" y="752.2" font-size="31.5">b</text>
<text x="142.3" y="777.4" font-size="31.5">c</text>
<text x="698.0" y="716.6" font-size="32.5">d</text>
<text x="594.2" y="807.3" font-size="32.5">e</text>
</g>
<g clip-path="url(#cpd)">
<clipPath id="dclip"><polygon points="1467.3,366.8 1475.1,362.9 1483.9,363.9 1489.8,371.7 1494.6,379.5 1496.6,387.3 1503.4,395.1 1506.3,404.9 1502.4,414.6 1504.4,424.4 1508.3,434.1 1510.2,440.0 1520.0,440.0 1529.8,439.0 1539.5,442.0 1549.3,443.9 1547.3,451.7 1539.5,457.6 1533.7,463.4 1531.7,471.2 1537.6,477.1 1545.4,482.9 1547.3,488.8 1559.0,489.8 1563.9,494.6 1566.8,504.4 1570.7,512.2 1576.6,520.0 1568.8,523.9 1562.9,527.8 1557.1,535.6 1552.2,545.4 1551.2,553.2 1543.4,561.0 1533.7,569.8 1523.9,572.7 1520.0,580.5 1514.1,582.4 1508.3,576.6 1502.4,570.7 1494.6,566.8 1486.8,566.8 1482.9,572.7 1484.9,580.5 1481.0,586.3 1475.1,592.2 1479.0,599.0 1475.1,604.9 1481.0,611.7 1490.7,616.6 1484.9,622.4 1481.0,628.3 1475.1,632.2 1467.3,642.0 1455.6,645.9 1440.0,646.8 1434.1,651.7 1428.3,657.6 1420.5,663.4 1414.6,669.3 1404.9,675.1 1399.0,682.9 1393.2,692.7 1387.3,704.4 1377.6,714.1 1369.8,722.0 1371.7,729.8 1379.5,737.6 1375.6,743.4 1367.8,739.5 1360.0,743.4 1352.2,747.3 1346.3,744.4 1338.5,741.5 1326.8,737.6 1315.1,733.7 1305.4,729.8 1295.6,723.9 1291.7,716.1 1287.8,710.2 1297.6,704.4 1302.4,696.6 1301.5,686.8 1307.3,675.1 1315.1,663.4 1318.0,655.6 1312.2,651.7 1313.2,643.9 1309.3,636.1 1303.4,628.3 1295.6,622.4 1290.7,616.6 1293.7,604.9 1299.5,599.0 1305.4,589.3 1301.5,579.5 1313.2,571.7 1319.0,574.6 1328.8,571.7 1331.7,564.9 1332.7,555.1 1337.6,545.4 1330.7,535.6 1328.8,527.8 1319.0,525.9 1309.3,520.0 1315.1,514.1 1328.8,508.3 1336.6,500.5 1326.8,496.6 1324.9,484.9 1321.0,475.1 1315.1,465.4 1311.2,459.5 1304.4,455.6 1311.2,445.9 1307.3,438.0 1315.1,430.2 1322.9,428.3 1321.0,416.6 1326.8,406.8 1335.6,395.1 1348.3,392.2 1352.2,399.0 1353.2,410.7 1353.2,424.4 1363.9,425.4 1369.8,424.4 1372.7,418.5 1389.3,408.8 1397.1,404.9 1404.9,414.6 1406.8,408.8 1416.6,401.0 1424.4,403.9 1434.1,402.0 1442.0,399.0 1442.0,390.2 1439.0,389.3 1443.9,379.5 1455.6,373.7 1463.4,372.7"/></clipPath>
<g clip-path="url(#dclip)">
<polygon fill="#7db83b" points="1467.3,366.8 1475.1,362.9 1483.9,363.9 1489.8,371.7 1494.6,379.5 1496.6,387.3 1503.4,395.1 1506.3,404.9 1502.4,414.6 1504.4,424.4 1508.3,434.1 1510.2,440.0 1520.0,440.0 1529.8,439.0 1539.5,442.0 1549.3,443.9 1547.3,451.7 1539.5,457.6 1533.7,463.4 1531.7,471.2 1537.6,477.1 1545.4,482.9 1547.3,488.8 1559.0,489.8 1563.9,494.6 1566.8,504.4 1570.7,512.2 1576.6,520.0 1568.8,523.9 1562.9,527.8 1557.1,535.6 1552.2,545.4 1551.2,553.2 1543.4,561.0 1533.7,569.8 1523.9,572.7 1520.0,580.5 1514.1,582.4 1508.3,576.6 1502.4,570.7 1494.6,566.8 1486.8,566.8 1482.9,572.7 1484.9,580.5 1481.0,586.3 1475.1,592.2 1479.0,599.0 1475.1,604.9 1481.0,611.7 1490.7,616.6 1484.9,622.4 1481.0,628.3 1475.1,632.2 1467.3,642.0 1455.6,645.9 1440.0,646.8 1434.1,651.7 1428.3,657.6 1420.5,663.4 1414.6,669.3 1404.9,675.1 1399.0,682.9 1393.2,692.7 1387.3,704.4 1377.6,714.1 1369.8,722.0 1371.7,729.8 1379.5,737.6 1375.6,743.4 1367.8,739.5 1360.0,743.4 1352.2,747.3 1346.3,744.4 1338.5,741.5 1326.8,737.6 1315.1,733.7 1305.4,729.8 1295.6,723.9 1291.7,716.1 1287.8,710.2 1297.6,704.4 1302.4,696.6 1301.5,686.8 1307.3,675.1 1315.1,663.4 1318.0,655.6 1312.2,651.7 1313.2,643.9 1309.3,636.1 1303.4,628.3 1295.6,622.4 1290.7,616.6 1293.7,604.9 1299.5,599.0 1305.4,589.3 1301.5,579.5 1313.2,571.7 1319.0,574.6 1328.8,571.7 1331.7,564.9 1332.7,555.1 1337.6,545.4 1330.7,535.6 1328.8,527.8 1319.0,525.9 1309.3,520.0 1315.1,514.1 1328.8,508.3 1336.6,500.5 1326.8,496.6 1324.9,484.9 1321.0,475.1 1315.1,465.4 1311.2,459.5 1304.4,455.6 1311.2,445.9 1307.3,438.0 1315.1,430.2 1322.9,428.3 1321.0,416.6 1326.8,406.8 1335.6,395.1 1348.3,392.2 1352.2,399.0 1353.2,410.7 1353.2,424.4 1363.9,425.4 1369.8,424.4 1372.7,418.5 1389.3,408.8 1397.1,404.9 1404.9,414.6 1406.8,408.8 1416.6,401.0 1424.4,403.9 1434.1,402.0 1442.0,399.0 1442.0,390.2 1439.0,389.3 1443.9,379.5 1455.6,373.7 1463.4,372.7"/>
<filter id="dm1" x="0" y="0" width="1" height="1" color-interpolation-filters="sRGB"><feTurbulence type="fractalNoise" baseFrequency="0.13" numOctaves="2" seed="3" result="n"/><feColorMatrix in="n" type="matrix" values="0 0 0 0 0.725 0 0 0 0 0.827 0 0 0 0 0.302 14.00 0 0 0 -5.380" result="c"/><feComponentTransfer in="c" result="t"><feFuncA type="discrete" tableValues="0 1"/></feComponentTransfer><feComposite in="t" in2="SourceGraphic" operator="in"/></filter>
<filter id="dm2" x="0" y="0" width="1" height="1" color-interpolation-filters="sRGB"><feTurbulence type="fractalNoise" baseFrequency="0.17" numOctaves="2" seed="8" result="n"/><feColorMatrix in="n" type="matrix" values="0 0 0 0 0.957 0 0 0 0 0.698 0 0 0 0 0.243 14.00 0 0 0 -7.340" result="c"/><feComponentTransfer in="c" result="t"><feFuncA type="discrete" tableValues="0 1"/></feComponentTransfer><feComposite in="t" in2="SourceGraphic" operator="in"/></filter>
<filter id="dm3" x="0" y="0" width="1" height="1" color-interpolation-filters="sRGB"><feTurbulence type="fractalNoise" baseFrequency="0.18" numOctaves="2" seed="5" result="n"/><feColorMatrix in="n" type="matrix" values="0 0 0 0 0.725 0 0 0 0 0.827 0 0 0 0 0.302 14.00 0 0 0 -8.040" result="c"/><feComponentTransfer in="c" result="t"><feFuncA type="discrete" tableValues="0 1"/></feComponentTransfer><feComposite in="t" in2="SourceGraphic" operator="in"/></filter>
<filter id="dm4" x="0" y="0" width="1" height="1" color-interpolation-filters="sRGB"><feTurbulence type="fractalNoise" baseFrequency="0.3" numOctaves="1" seed="12" result="n"/><feColorMatrix in="n" type="matrix" values="0 0 0 0 0.933 0 0 0 0 0.420 0 0 0 0 0.200 14.00 0 0 0 -9.580" result="c"/><feComponentTransfer in="c" result="t"><feFuncA type="discrete" tableValues="0 1"/></feComponentTransfer><feComposite in="t" in2="SourceGraphic" operator="in"/></filter>
<polygon fill="#b9d34d" points="1332.7,624.4 1338.5,610.7 1354.1,595.1 1365.9,583.4 1381.5,573.7 1397.1,563.9 1404.9,548.3 1416.6,538.5 1428.3,530.7 1436.1,538.5 1442.0,552.2 1455.6,560.0 1467.3,567.8 1475.1,579.5 1475.1,592.2 1467.3,599.0 1455.6,604.9 1447.8,614.6 1442.0,624.4 1436.1,634.1 1428.3,645.9 1420.5,657.6 1412.7,669.3 1404.9,675.1 1399.0,682.9 1393.2,692.7 1387.3,704.4 1377.6,714.1 1369.8,722.0 1371.7,729.8 1377.6,737.6 1367.8,739.5 1352.2,746.3 1338.5,741.5 1324.9,735.6 1319.0,725.9 1317.1,716.1 1324.9,704.4 1330.7,688.8 1334.6,677.1 1332.7,665.4 1326.8,653.7 1324.9,642.0 1326.8,634.1" filter="url(#dm1)"/>
<polygon fill="#f4b23e" points="1328.8,618.5 1358.0,599.0 1389.3,579.5 1416.6,567.8 1436.1,571.7 1432.2,591.2 1416.6,610.7 1397.1,626.3 1377.6,645.9 1362.0,669.3 1354.1,692.7 1346.3,716.1 1338.5,735.6 1324.9,731.7 1319.0,720.0 1328.8,696.6 1332.7,669.3 1324.9,642.0" filter="url(#dm2)"/>
<polygon fill="#b9d34d" points="1436.1,524.9 1463.4,521.0 1494.6,524.9 1523.9,513.2 1553.2,517.1 1568.8,524.9 1553.2,544.4 1533.7,565.9 1506.3,563.9 1490.7,565.9 1475.1,571.7 1459.5,562.0 1445.9,548.3" filter="url(#dm3)"/>
<polygon fill="#b9d34d" points="1389.3,521.0 1416.6,509.3 1436.1,521.0 1428.3,530.7 1416.6,538.5 1404.9,548.3 1397.1,563.9 1381.5,573.7 1373.7,563.9 1381.5,540.5" filter="url(#dm3)"/>
<polygon fill="#ee6b33" points="1332.7,624.4 1338.5,610.7 1354.1,595.1 1365.9,583.4 1381.5,573.7 1397.1,563.9 1404.9,548.3 1416.6,538.5 1428.3,530.7 1436.1,538.5 1442.0,552.2 1455.6,560.0 1467.3,567.8 1475.1,579.5 1475.1,592.2 1467.3,599.0 1455.6,604.9 1447.8,614.6 1442.0,624.4 1436.1,634.1 1428.3,645.9 1420.5,657.6 1412.7,669.3 1404.9,675.1 1399.0,682.9 1393.2,692.7 1387.3,704.4 1377.6,714.1 1369.8,722.0 1371.7,729.8 1377.6,737.6 1367.8,739.5 1352.2,746.3 1338.5,741.5 1324.9,735.6 1319.0,725.9 1317.1,716.1 1324.9,704.4 1330.7,688.8 1334.6,677.1 1332.7,665.4 1326.8,653.7 1324.9,642.0 1326.8,634.1" filter="url(#dm4)"/>
<polygon fill="#f4b23e" points="1406.8,518.0 1412.7,510.2 1420.5,507.3 1430.2,506.3 1434.1,512.2 1436.1,522.0 1432.2,531.7 1424.4,535.6 1416.6,536.6 1408.8,529.8" opacity="0.75"/>
<circle cx="1456.6" cy="571.7" r="6.5" fill="#f4b23e"/>
<circle cx="1379.5" cy="587.3" r="5.5" fill="#f4b23e"/>
<circle cx="1334.6" cy="634.1" r="9.0" fill="#f4b23e"/>
<circle cx="1500.5" cy="542.4" r="6.0" fill="#f4b23e"/>
<circle cx="1332.7" cy="689.8" r="4.5" fill="#f4b23e"/>
<circle cx="1333.7" cy="716.1" r="5.5" fill="#f4b23e"/>
<circle cx="1441.0" cy="619.5" r="3.5" fill="#f4b23e"/>
<circle cx="1389.3" cy="651.7" r="3.5" fill="#f4b23e"/>
<circle cx="1568.8" cy="523.0" r="3.0" fill="#f4b23e"/>
<circle cx="1352.2" cy="473.2" r="2.5" fill="#f4b23e"/>
<circle cx="1489.8" cy="462.4" r="2.5" fill="#f4b23e"/>
<polygon fill="#e7382d" points="1408.8,523.9 1414.6,520.0 1416.6,514.1 1422.4,514.1 1424.4,520.0 1430.2,522.0 1428.3,527.8 1424.4,531.7 1420.5,533.7 1414.6,531.7 1412.7,527.8"/>
<circle cx="1456.6" cy="571.7" r="4.6" fill="#e7382d"/>
<circle cx="1379.5" cy="587.3" r="3.6" fill="#e7382d"/>
<circle cx="1500.5" cy="542.4" r="3.8" fill="#e7382d"/>
<circle cx="1332.7" cy="689.8" r="2.8" fill="#e7382d"/>
<circle cx="1333.7" cy="716.1" r="3.8" fill="#e7382d"/>
<circle cx="1441.0" cy="619.5" r="2.2" fill="#e7382d"/>
<circle cx="1389.3" cy="651.7" r="2.2" fill="#e7382d"/>
<circle cx="1568.8" cy="523.0" r="2.0" fill="#e7382d"/>
<circle cx="1352.2" cy="473.2" r="1.5" fill="#e7382d"/>
<circle cx="1489.8" cy="462.4" r="1.5" fill="#e7382d"/>
<circle cx="1359.0" cy="485.0" r="1.3" fill="#e7382d"/>
<polygon fill="#e7382d" points="1326.8,632.2 1332.7,629.3 1338.5,627.3 1342.4,633.2 1338.5,638.0 1330.7,638.0"/>
<polygon fill="#e7382d" points="1334.6,700.5 1337.0,700.5 1337.0,710.2 1334.6,710.2"/>
<circle cx="1369.6" cy="591.4" r="0.9" fill="#e7382d"/>
<circle cx="1447.2" cy="581.1" r="0.9" fill="#ee6b33"/>
<circle cx="1384.3" cy="607.8" r="1.6" fill="#e7382d"/>
<circle cx="1448.1" cy="586.5" r="1.1" fill="#ee6b33"/>
<circle cx="1409.1" cy="636.3" r="1.1" fill="#e7382d"/>
<circle cx="1405.9" cy="588.2" r="1.6" fill="#e7382d"/>
<circle cx="1403.4" cy="668.1" r="1.1" fill="#e7382d"/>
<circle cx="1377.2" cy="663.8" r="0.9" fill="#ee6b33"/>
<circle cx="1425.2" cy="641.9" r="1.3" fill="#e7382d"/>
<circle cx="1410.4" cy="646.6" r="1.3" fill="#e7382d"/>
<circle cx="1357.1" cy="668.7" r="1.6" fill="#e7382d"/>
<circle cx="1432.9" cy="616.4" r="0.9" fill="#e7382d"/>
<circle cx="1398.9" cy="594.0" r="1.3" fill="#e7382d"/>
<circle cx="1469.2" cy="578.1" r="1.3" fill="#e7382d"/>
<circle cx="1409.5" cy="647.1" r="0.9" fill="#e7382d"/>
<circle cx="1393.0" cy="685.1" r="0.9" fill="#ee6b33"/>
<circle cx="1363.4" cy="634.3" r="1.3" fill="#e7382d"/>
<circle cx="1414.4" cy="654.0" r="1.1" fill="#e7382d"/>
<circle cx="1331.6" cy="645.9" r="1.3" fill="#e7382d"/>
<circle cx="1362.5" cy="639.7" r="1.3" fill="#ee6b33"/>
<circle cx="1355.2" cy="606.5" r="1.6" fill="#ee6b33"/>
<circle cx="1347.5" cy="615.3" r="1.1" fill="#e7382d"/>
<circle cx="1402.5" cy="675.2" r="1.3" fill="#e7382d"/>
<circle cx="1327.5" cy="728.0" r="1.6" fill="#e7382d"/>
<circle cx="1381.3" cy="582.8" r="1.6" fill="#e7382d"/>
<circle cx="1348.8" cy="743.5" r="1.6" fill="#e7382d"/>
<circle cx="1336.2" cy="673.5" r="0.9" fill="#e7382d"/>
<circle cx="1407.5" cy="661.8" r="1.3" fill="#ee6b33"/>
<circle cx="1323.0" cy="723.4" r="1.6" fill="#e7382d"/>
<circle cx="1413.0" cy="650.4" r="0.9" fill="#e7382d"/>
<circle cx="1394.5" cy="579.6" r="0.9" fill="#ee6b33"/>
<circle cx="1372.5" cy="612.2" r="1.1" fill="#ee6b33"/>
<circle cx="1401.5" cy="590.6" r="0.9" fill="#ee6b33"/>
<circle cx="1365.6" cy="681.2" r="0.9" fill="#ee6b33"/>
<circle cx="1353.8" cy="662.7" r="1.3" fill="#ee6b33"/>
<circle cx="1353.8" cy="712.0" r="1.1" fill="#e7382d"/>
<circle cx="1354.4" cy="658.3" r="1.3" fill="#ee6b33"/>
<circle cx="1362.6" cy="611.2" r="1.3" fill="#e7382d"/>
<circle cx="1392.4" cy="625.5" r="1.6" fill="#ee6b33"/>
<circle cx="1372.7" cy="681.2" r="0.9" fill="#e7382d"/>
<circle cx="1393.6" cy="596.5" r="1.3" fill="#e7382d"/>
<circle cx="1380.8" cy="637.1" r="0.9" fill="#ee6b33"/>
<circle cx="1391.7" cy="683.6" r="1.6" fill="#ee6b33"/>
<circle cx="1465.4" cy="592.3" r="1.1" fill="#e7382d"/>
<circle cx="1352.0" cy="609.8" r="1.3" fill="#ee6b33"/>
<circle cx="1356.6" cy="670.9" r="1.3" fill="#ee6b33"/>
<circle cx="1384.4" cy="587.8" r="1.3" fill="#e7382d"/>
<circle cx="1456.1" cy="587.8" r="1.1" fill="#ee6b33"/>
<circle cx="1440.2" cy="591.2" r="1.1" fill="#e7382d"/>
<circle cx="1415.7" cy="585.9" r="0.9" fill="#e7382d"/>
<circle cx="1456.9" cy="574.3" r="1.1" fill="#e7382d"/>
<circle cx="1458.6" cy="575.5" r="1.3" fill="#ee6b33"/>
<circle cx="1350.2" cy="614.5" r="1.6" fill="#ee6b33"/>
<circle cx="1359.5" cy="666.0" r="1.1" fill="#e7382d"/>
<circle cx="1388.0" cy="577.1" r="1.1" fill="#e7382d"/>
<circle cx="1343.1" cy="694.6" r="1.3" fill="#e7382d"/>
<circle cx="1333.7" cy="725.3" r="1.1" fill="#ee6b33"/>
<circle cx="1449.0" cy="593.4" r="1.6" fill="#ee6b33"/>
<circle cx="1382.1" cy="640.8" r="1.3" fill="#e7382d"/>
<circle cx="1333.4" cy="630.7" r="1.3" fill="#ee6b33"/>
<circle cx="1390.6" cy="692.2" r="1.6" fill="#e7382d"/>
<circle cx="1399.8" cy="617.8" r="0.9" fill="#e7382d"/>
<circle cx="1470.7" cy="583.0" r="1.3" fill="#e7382d"/>
<circle cx="1325.2" cy="706.0" r="1.3" fill="#e7382d"/>
<circle cx="1382.4" cy="661.8" r="1.6" fill="#ee6b33"/>
<circle cx="1370.1" cy="614.8" r="1.1" fill="#e7382d"/>
<circle cx="1359.7" cy="674.9" r="1.1" fill="#e7382d"/>
<circle cx="1416.1" cy="571.8" r="1.1" fill="#e7382d"/>
<circle cx="1347.3" cy="734.0" r="1.3" fill="#ee6b33"/>
<circle cx="1437.6" cy="616.8" r="1.1" fill="#e7382d"/>
<circle cx="1523.7" cy="539.6" r="2.0" fill="#b9d34d"/>
<circle cx="1523.7" cy="539.6" r="0.8" fill="#ee6b33"/>
<circle cx="1462.9" cy="531.5" r="2.0" fill="#b9d34d"/>
<circle cx="1462.9" cy="531.5" r="1.2" fill="#ee6b33"/>
<circle cx="1514.2" cy="539.2" r="2.0" fill="#b9d34d"/>
<circle cx="1514.2" cy="539.2" r="1.0" fill="#ee6b33"/>
<circle cx="1475.0" cy="561.5" r="2.0" fill="#b9d34d"/>
<circle cx="1475.0" cy="561.5" r="1.2" fill="#e7382d"/>
<circle cx="1482.7" cy="523.7" r="2.0" fill="#b9d34d"/>
<circle cx="1482.7" cy="523.7" r="0.8" fill="#e7382d"/>
<circle cx="1542.1" cy="530.2" r="2.0" fill="#b9d34d"/>
<circle cx="1542.1" cy="530.2" r="0.8" fill="#e7382d"/>
<circle cx="1515.3" cy="526.3" r="2.0" fill="#b9d34d"/>
<circle cx="1515.3" cy="526.3" r="1.2" fill="#ee6b33"/>
<circle cx="1507.0" cy="550.6" r="2.0" fill="#b9d34d"/>
<circle cx="1507.0" cy="550.6" r="0.8" fill="#ee6b33"/>
<circle cx="1455.3" cy="517.6" r="2.0" fill="#b9d34d"/>
<circle cx="1455.3" cy="517.6" r="0.8" fill="#ee6b33"/>
<circle cx="1477.7" cy="522.3" r="2.0" fill="#b9d34d"/>
<circle cx="1477.7" cy="522.3" r="1.2" fill="#ee6b33"/>
<circle cx="1470.9" cy="524.4" r="2.0" fill="#b9d34d"/>
<circle cx="1470.9" cy="524.4" r="0.8" fill="#ee6b33"/>
<circle cx="1479.9" cy="533.6" r="2.0" fill="#b9d34d"/>
<circle cx="1479.9" cy="533.6" r="1.2" fill="#e7382d"/>
<circle cx="1463.2" cy="557.2" r="2.0" fill="#b9d34d"/>
<circle cx="1463.2" cy="557.2" r="0.8" fill="#ee6b33"/>
<circle cx="1505.5" cy="527.3" r="2.0" fill="#b9d34d"/>
<circle cx="1505.5" cy="527.3" r="1.0" fill="#ee6b33"/>
<circle cx="1530.1" cy="543.1" r="2.0" fill="#b9d34d"/>
<circle cx="1530.1" cy="543.1" r="1.0" fill="#ee6b33"/>
<circle cx="1510.5" cy="553.9" r="2.0" fill="#b9d34d"/>
<circle cx="1510.5" cy="553.9" r="1.2" fill="#e7382d"/>
<circle cx="1503.2" cy="560.0" r="2.0" fill="#b9d34d"/>
<circle cx="1503.2" cy="560.0" r="0.8" fill="#e7382d"/>
<circle cx="1479.2" cy="531.8" r="2.0" fill="#b9d34d"/>
<circle cx="1479.2" cy="531.8" r="0.8" fill="#e7382d"/>
<circle cx="1510.4" cy="549.7" r="2.0" fill="#b9d34d"/>
<circle cx="1510.4" cy="549.7" r="1.0" fill="#ee6b33"/>
<circle cx="1525.6" cy="535.8" r="2.0" fill="#b9d34d"/>
<circle cx="1525.6" cy="535.8" r="1.2" fill="#e7382d"/>
<circle cx="1524.2" cy="516.3" r="2.0" fill="#b9d34d"/>
<circle cx="1524.2" cy="516.3" r="0.8" fill="#ee6b33"/>
<circle cx="1461.5" cy="555.6" r="2.0" fill="#b9d34d"/>
<circle cx="1461.5" cy="555.6" r="0.8" fill="#ee6b33"/>
<circle cx="1493.9" cy="526.4" r="2.0" fill="#b9d34d"/>
<circle cx="1493.9" cy="526.4" r="1.0" fill="#ee6b33"/>
<circle cx="1528.0" cy="544.7" r="2.0" fill="#b9d34d"/>
<circle cx="1528.0" cy="544.7" r="1.2" fill="#e7382d"/>
<circle cx="1441.9" cy="508.1" r="2.0" fill="#b9d34d"/>
<circle cx="1441.9" cy="508.1" r="1.0" fill="#ee6b33"/>
<circle cx="1492.4" cy="534.5" r="2.0" fill="#b9d34d"/>
<circle cx="1492.4" cy="534.5" r="1.2" fill="#e7382d"/>
<circle cx="1518.6" cy="549.3" r="2.0" fill="#b9d34d"/>
<circle cx="1518.6" cy="549.3" r="1.0" fill="#ee6b33"/>
<circle cx="1490.2" cy="533.0" r="2.0" fill="#b9d34d"/>
<circle cx="1490.2" cy="533.0" r="0.8" fill="#e7382d"/>
<circle cx="1491.3" cy="519.2" r="2.0" fill="#b9d34d"/>
<circle cx="1491.3" cy="519.2" r="0.8" fill="#ee6b33"/>
<circle cx="1441.5" cy="503.6" r="2.0" fill="#b9d34d"/>
<circle cx="1441.5" cy="503.6" r="1.2" fill="#ee6b33"/>
<circle cx="1511.1" cy="451.8" r="1.4" fill="#b9d34d"/>
<circle cx="1511.1" cy="451.8" r="0.7" fill="#f4b23e"/>
<circle cx="1483.7" cy="417.7" r="1.7" fill="#b9d34d"/>
<circle cx="1541.5" cy="473.1" r="1.7" fill="#b9d34d"/>
<circle cx="1399.6" cy="428.1" r="1.7" fill="#b9d34d"/>
<circle cx="1399.6" cy="428.1" r="0.7" fill="#f4b23e"/>
<circle cx="1535.9" cy="476.9" r="2.0" fill="#b9d34d"/>
<circle cx="1386.9" cy="435.0" r="1.7" fill="#b9d34d"/>
<circle cx="1410.4" cy="496.2" r="1.4" fill="#b9d34d"/>
<circle cx="1410.4" cy="496.2" r="0.7" fill="#f4b23e"/>
<circle cx="1403.5" cy="441.9" r="1.7" fill="#b9d34d"/>
<circle cx="1331.1" cy="470.6" r="2.0" fill="#b9d34d"/>
<circle cx="1381.2" cy="452.1" r="1.4" fill="#b9d34d"/>
<circle cx="1381.2" cy="452.1" r="0.7" fill="#f4b23e"/>
<circle cx="1500.1" cy="485.8" r="1.7" fill="#b9d34d"/>
<circle cx="1526.1" cy="489.1" r="2.0" fill="#b9d34d"/>
<circle cx="1412.7" cy="496.9" r="2.0" fill="#b9d34d"/>
<circle cx="1412.7" cy="496.9" r="0.7" fill="#f4b23e"/>
<circle cx="1447.6" cy="477.7" r="1.4" fill="#b9d34d"/>
<circle cx="1463.0" cy="406.3" r="1.7" fill="#b9d34d"/>
<circle cx="1447.8" cy="410.3" r="1.7" fill="#b9d34d"/>
<circle cx="1447.8" cy="410.3" r="0.7" fill="#f4b23e"/>
<circle cx="1399.5" cy="425.9" r="2.0" fill="#b9d34d"/>
<circle cx="1492.0" cy="469.5" r="1.7" fill="#b9d34d"/>
<circle cx="1472.6" cy="426.2" r="2.0" fill="#b9d34d"/>
<circle cx="1472.6" cy="426.2" r="0.7" fill="#f4b23e"/>
<circle cx="1475.6" cy="404.0" r="2.0" fill="#b9d34d"/>
<circle cx="1531.2" cy="450.4" r="1.4" fill="#b9d34d"/>
<circle cx="1425.1" cy="430.2" r="1.7" fill="#b9d34d"/>
<circle cx="1425.1" cy="430.2" r="0.7" fill="#f4b23e"/>
<circle cx="1419.1" cy="456.6" r="1.4" fill="#b9d34d"/>
<circle cx="1340.3" cy="431.3" r="1.4" fill="#b9d34d"/>
<circle cx="1393.8" cy="434.5" r="2.0" fill="#b9d34d"/>
<circle cx="1393.8" cy="434.5" r="0.7" fill="#f4b23e"/>
<circle cx="1493.7" cy="415.1" r="1.7" fill="#b9d34d"/>
<circle cx="1348.5" cy="451.1" r="2.0" fill="#b9d34d"/>
<circle cx="1504.1" cy="493.6" r="1.4" fill="#b9d34d"/>
<circle cx="1504.1" cy="493.6" r="0.7" fill="#f4b23e"/>
<circle cx="1382.5" cy="419.8" r="1.7" fill="#b9d34d"/>
<circle cx="1470.2" cy="442.4" r="1.7" fill="#b9d34d"/>
<circle cx="1517.7" cy="496.6" r="1.4" fill="#b9d34d"/>
<circle cx="1517.7" cy="496.6" r="0.7" fill="#f4b23e"/>
<circle cx="1348.8" cy="441.5" r="1.7" fill="#b9d34d"/>
<circle cx="1536.3" cy="454.2" r="1.7" fill="#b9d34d"/>
<circle cx="1441.3" cy="473.1" r="2.0" fill="#b9d34d"/>
<circle cx="1441.3" cy="473.1" r="0.7" fill="#f4b23e"/>
<circle cx="1483.2" cy="493.3" r="1.7" fill="#b9d34d"/>
<circle cx="1338.9" cy="484.8" r="1.4" fill="#b9d34d"/>
<circle cx="1534.4" cy="468.6" r="1.7" fill="#b9d34d"/>
<circle cx="1534.4" cy="468.6" r="0.7" fill="#f4b23e"/>
<circle cx="1544.4" cy="466.3" r="2.0" fill="#b9d34d"/>
<circle cx="1468.0" cy="475.1" r="1.4" fill="#b9d34d"/>
<circle cx="1342.3" cy="426.2" r="2.0" fill="#b9d34d"/>
<circle cx="1342.3" cy="426.2" r="0.7" fill="#f4b23e"/>
</g>
<polygon points="1467.3,366.8 1475.1,362.9 1483.9,363.9 1489.8,371.7 1494.6,379.5 1496.6,387.3 1503.4,395.1 1506.3,404.9 1502.4,414.6 1504.4,424.4 1508.3,434.1 1510.2,440.0 1520.0,440.0 1529.8,439.0 1539.5,442.0 1549.3,443.9 1547.3,451.7 1539.5,457.6 1533.7,463.4 1531.7,471.2 1537.6,477.1 1545.4,482.9 1547.3,488.8 1559.0,489.8 1563.9,494.6 1566.8,504.4 1570.7,512.2 1576.6,520.0 1568.8,523.9 1562.9,527.8 1557.1,535.6 1552.2,545.4 1551.2,553.2 1543.4,561.0 1533.7,569.8 1523.9,572.7 1520.0,580.5 1514.1,582.4 1508.3,576.6 1502.4,570.7 1494.6,566.8 1486.8,566.8 1482.9,572.7 1484.9,580.5 1481.0,586.3 1475.1,592.2 1479.0,599.0 1475.1,604.9 1481.0,611.7 1490.7,616.6 1484.9,622.4 1481.0,628.3 1475.1,632.2 1467.3,642.0 1455.6,645.9 1440.0,646.8 1434.1,651.7 1428.3,657.6 1420.5,663.4 1414.6,669.3 1404.9,675.1 1399.0,682.9 1393.2,692.7 1387.3,704.4 1377.6,714.1 1369.8,722.0 1371.7,729.8 1379.5,737.6 1375.6,743.4 1367.8,739.5 1360.0,743.4 1352.2,747.3 1346.3,744.4 1338.5,741.5 1326.8,737.6 1315.1,733.7 1305.4,729.8 1295.6,723.9 1291.7,716.1 1287.8,710.2 1297.6,704.4 1302.4,696.6 1301.5,686.8 1307.3,675.1 1315.1,663.4 1318.0,655.6 1312.2,651.7 1313.2,643.9 1309.3,636.1 1303.4,628.3 1295.6,622.4 1290.7,616.6 1293.7,604.9 1299.5,599.0 1305.4,589.3 1301.5,579.5 1313.2,571.7 1319.0,574.6 1328.8,571.7 1331.7,564.9 1332.7,555.1 1337.6,545.4 1330.7,535.6 1328.8,527.8 1319.0,525.9 1309.3,520.0 1315.1,514.1 1328.8,508.3 1336.6,500.5 1326.8,496.6 1324.9,484.9 1321.0,475.1 1315.1,465.4 1311.2,459.5 1304.4,455.6 1311.2,445.9 1307.3,438.0 1315.1,430.2 1322.9,428.3 1321.0,416.6 1326.8,406.8 1335.6,395.1 1348.3,392.2 1352.2,399.0 1353.2,410.7 1353.2,424.4 1363.9,425.4 1369.8,424.4 1372.7,418.5 1389.3,408.8 1397.1,404.9 1404.9,414.6 1406.8,408.8 1416.6,401.0 1424.4,403.9 1434.1,402.0 1442.0,399.0 1442.0,390.2 1439.0,389.3 1443.9,379.5 1455.6,373.7 1463.4,372.7" fill="none" stroke="#12120c" stroke-width="1.7" stroke-linejoin="round"/>
</g>
<g clip-path="url(#cpe)">
<clipPath id="eclip"><polygon points="1181.5,991.7 1189.3,987.8 1199.0,987.8 1210.7,985.9 1218.5,989.8 1224.4,993.7 1228.3,999.5 1234.1,1005.4 1242.0,1001.5 1251.7,1002.4 1259.5,999.5 1269.3,999.5 1279.0,997.6 1282.9,993.7 1277.1,985.9 1273.2,978.0 1268.3,973.2 1277.1,968.3 1284.9,970.2 1292.7,972.2 1300.5,970.2 1308.3,968.3 1316.1,968.3 1323.9,966.3 1331.7,968.3 1339.5,962.4 1341.5,954.6 1340.5,946.8 1347.3,948.8 1353.2,954.6 1355.1,960.5 1359.0,964.4 1351.2,968.3 1345.4,974.1 1341.5,982.0 1337.6,987.8 1339.5,993.7 1343.4,999.5 1347.3,1005.4 1355.1,1011.2 1362.9,1011.2 1366.8,1005.4 1374.6,1001.5 1380.5,993.7 1388.3,989.8 1396.1,985.9 1402.0,985.9 1400.0,980.0 1394.1,976.1 1391.2,972.2 1398.4,965.6 1408.1,955.9 1417.9,955.9 1427.7,954.9 1435.5,957.8 1445.2,956.8 1453.0,953.9 1460.8,948.0 1463.8,942.2 1458.9,936.3 1455.0,932.4 1462.8,926.6 1470.6,924.6 1478.4,918.8 1486.2,915.9 1482.3,907.1 1480.3,895.4 1478.4,883.7 1479.4,872.0 1480.3,860.2 1478.4,848.5 1473.5,840.7 1476.4,834.9 1472.5,829.0 1473.5,821.2 1482.3,819.3 1490.1,821.2 1496.0,816.3 1503.8,819.3 1509.6,821.2 1517.4,817.3 1525.2,816.3 1527.2,823.2 1533.0,825.1 1536.9,831.0 1542.8,832.9 1548.6,829.0 1556.4,829.0 1562.3,834.9 1568.1,840.7 1576.0,836.8 1585.7,836.8 1593.5,838.8 1597.4,846.6 1603.3,852.4 1607.2,858.3 1611.1,864.1 1618.9,868.0 1626.7,872.0 1632.5,877.8 1637.4,878.8 1636.4,889.5 1632.5,899.3 1634.5,907.1 1626.7,911.0 1620.8,912.9 1611.1,912.9 1603.3,914.9 1597.4,918.8 1595.5,926.6 1593.5,934.4 1589.6,944.1 1591.6,953.9 1595.5,963.7 1599.4,973.4 1598.4,985.1 1595.5,991.0 1585.7,991.0 1577.9,994.9 1570.1,1000.7 1562.3,1006.6 1552.5,1010.5 1544.7,1014.4 1536.9,1017.3 1529.1,1020.0 1519.0,1024.9 1507.3,1028.8 1491.7,1032.7 1480.0,1034.6 1472.2,1036.6 1474.1,1044.4 1468.3,1050.2 1460.5,1048.3 1450.7,1052.2 1444.9,1058.0 1441.0,1065.9 1435.1,1063.9 1429.3,1065.9 1427.3,1071.7 1421.5,1075.6 1415.6,1079.5 1411.7,1085.4 1413.7,1093.2 1405.9,1099.0 1394.1,1099.0 1384.4,1097.1 1374.6,1097.1 1364.9,1101.0 1355.1,1102.9 1347.3,1106.8 1335.6,1104.9 1325.9,1106.8 1316.1,1109.8 1306.3,1110.7 1296.6,1112.7 1286.8,1110.7 1277.1,1114.6 1269.3,1116.6 1257.6,1114.6 1249.8,1118.5 1242.0,1110.7 1240.0,1104.9 1232.2,1108.8 1224.4,1099.0 1218.5,1101.0 1210.7,1099.0 1204.9,1104.9 1201.0,1114.6 1193.2,1116.6 1189.3,1124.4 1183.4,1114.6 1179.5,1110.7 1181.5,1102.9 1176.6,1097.1 1180.5,1087.3 1179.5,1079.5 1185.4,1075.6 1186.3,1067.8 1181.5,1062.0 1187.3,1060.0 1195.1,1054.1 1189.3,1046.3 1179.5,1040.5 1171.7,1036.6 1167.8,1032.7 1177.6,1026.8 1181.5,1019.0 1185.4,1013.2 1183.4,1005.4 1179.5,997.6"/></clipPath>
<g clip-path="url(#eclip)">
<polygon fill="#7db83b" points="1181.5,991.7 1189.3,987.8 1199.0,987.8 1210.7,985.9 1218.5,989.8 1224.4,993.7 1228.3,999.5 1234.1,1005.4 1242.0,1001.5 1251.7,1002.4 1259.5,999.5 1269.3,999.5 1279.0,997.6 1282.9,993.7 1277.1,985.9 1273.2,978.0 1268.3,973.2 1277.1,968.3 1284.9,970.2 1292.7,972.2 1300.5,970.2 1308.3,968.3 1316.1,968.3 1323.9,966.3 1331.7,968.3 1339.5,962.4 1341.5,954.6 1340.5,946.8 1347.3,948.8 1353.2,954.6 1355.1,960.5 1359.0,964.4 1351.2,968.3 1345.4,974.1 1341.5,982.0 1337.6,987.8 1339.5,993.7 1343.4,999.5 1347.3,1005.4 1355.1,1011.2 1362.9,1011.2 1366.8,1005.4 1374.6,1001.5 1380.5,993.7 1388.3,989.8 1396.1,985.9 1402.0,985.9 1400.0,980.0 1394.1,976.1 1391.2,972.2 1398.4,965.6 1408.1,955.9 1417.9,955.9 1427.7,954.9 1435.5,957.8 1445.2,956.8 1453.0,953.9 1460.8,948.0 1463.8,942.2 1458.9,936.3 1455.0,932.4 1462.8,926.6 1470.6,924.6 1478.4,918.8 1486.2,915.9 1482.3,907.1 1480.3,895.4 1478.4,883.7 1479.4,872.0 1480.3,860.2 1478.4,848.5 1473.5,840.7 1476.4,834.9 1472.5,829.0 1473.5,821.2 1482.3,819.3 1490.1,821.2 1496.0,816.3 1503.8,819.3 1509.6,821.2 1517.4,817.3 1525.2,816.3 1527.2,823.2 1533.0,825.1 1536.9,831.0 1542.8,832.9 1548.6,829.0 1556.4,829.0 1562.3,834.9 1568.1,840.7 1576.0,836.8 1585.7,836.8 1593.5,838.8 1597.4,846.6 1603.3,852.4 1607.2,858.3 1611.1,864.1 1618.9,868.0 1626.7,872.0 1632.5,877.8 1637.4,878.8 1636.4,889.5 1632.5,899.3 1634.5,907.1 1626.7,911.0 1620.8,912.9 1611.1,912.9 1603.3,914.9 1597.4,918.8 1595.5,926.6 1593.5,934.4 1589.6,944.1 1591.6,953.9 1595.5,963.7 1599.4,973.4 1598.4,985.1 1595.5,991.0 1585.7,991.0 1577.9,994.9 1570.1,1000.7 1562.3,1006.6 1552.5,1010.5 1544.7,1014.4 1536.9,1017.3 1529.1,1020.0 1519.0,1024.9 1507.3,1028.8 1491.7,1032.7 1480.0,1034.6 1472.2,1036.6 1474.1,1044.4 1468.3,1050.2 1460.5,1048.3 1450.7,1052.2 1444.9,1058.0 1441.0,1065.9 1435.1,1063.9 1429.3,1065.9 1427.3,1071.7 1421.5,1075.6 1415.6,1079.5 1411.7,1085.4 1413.7,1093.2 1405.9,1099.0 1394.1,1099.0 1384.4,1097.1 1374.6,1097.1 1364.9,1101.0 1355.1,1102.9 1347.3,1106.8 1335.6,1104.9 1325.9,1106.8 1316.1,1109.8 1306.3,1110.7 1296.6,1112.7 1286.8,1110.7 1277.1,1114.6 1269.3,1116.6 1257.6,1114.6 1249.8,1118.5 1242.0,1110.7 1240.0,1104.9 1232.2,1108.8 1224.4,1099.0 1218.5,1101.0 1210.7,1099.0 1204.9,1104.9 1201.0,1114.6 1193.2,1116.6 1189.3,1124.4 1183.4,1114.6 1179.5,1110.7 1181.5,1102.9 1176.6,1097.1 1180.5,1087.3 1179.5,1079.5 1185.4,1075.6 1186.3,1067.8 1181.5,1062.0 1187.3,1060.0 1195.1,1054.1 1189.3,1046.3 1179.5,1040.5 1171.7,1036.6 1167.8,1032.7 1177.6,1026.8 1181.5,1019.0 1185.4,1013.2 1183.4,1005.4 1179.5,997.6"/>
<polygon fill="#5a9b3f" points="1246.8,1088.3 1253.7,1085.4 1277.1,1086.3 1286.8,1087.3 1288.8,1090.2 1281.0,1095.1 1269.3,1097.1 1253.7,1095.1 1247.8,1093.2"/>
<filter id="em1" x="0" y="0" width="1" height="1" color-interpolation-filters="sRGB"><feTurbulence type="fractalNoise" baseFrequency="0.13" numOctaves="2" seed="4" result="n"/><feColorMatrix in="n" type="matrix" values="0 0 0 0 0.725 0 0 0 0 0.827 0 0 0 0 0.302 14.00 0 0 0 -5.380" result="c"/><feComponentTransfer in="c" result="t"><feFuncA type="discrete" tableValues="0 1"/></feComponentTransfer><feComposite in="t" in2="SourceGraphic" operator="in"/></filter>
<filter id="em2" x="0" y="0" width="1" height="1" color-interpolation-filters="sRGB"><feTurbulence type="fractalNoise" baseFrequency="0.17" numOctaves="2" seed="9" result="n"/><feColorMatrix in="n" type="matrix" values="0 0 0 0 0.957 0 0 0 0 0.698 0 0 0 0 0.243 14.00 0 0 0 -7.900" result="c"/><feComponentTransfer in="c" result="t"><feFuncA type="discrete" tableValues="0 1"/></feComponentTransfer><feComposite in="t" in2="SourceGraphic" operator="in"/></filter>
<filter id="em4" x="0" y="0" width="1" height="1" color-interpolation-filters="sRGB"><feTurbulence type="fractalNoise" baseFrequency="0.3" numOctaves="1" seed="14" result="n"/><feColorMatrix in="n" type="matrix" values="0 0 0 0 0.933 0 0 0 0 0.420 0 0 0 0 0.200 14.00 0 0 0 -9.580" result="c"/><feComponentTransfer in="c" result="t"><feFuncA type="discrete" tableValues="0 1"/></feComponentTransfer><feComposite in="t" in2="SourceGraphic" operator="in"/></filter>
<filter id="em3" x="0" y="0" width="1" height="1" color-interpolation-filters="sRGB"><feTurbulence type="fractalNoise" baseFrequency="0.2" numOctaves="2" seed="6" result="n"/><feColorMatrix in="n" type="matrix" values="0 0 0 0 0.725 0 0 0 0 0.827 0 0 0 0 0.302 14.00 0 0 0 -9.860" result="c"/><feComponentTransfer in="c" result="t"><feFuncA type="discrete" tableValues="0 1"/></feComponentTransfer><feComposite in="t" in2="SourceGraphic" operator="in"/></filter>
<polygon fill="#b9d34d" points="1222.4,1052.2 1232.2,1044.4 1243.9,1038.5 1251.7,1036.6 1253.7,1042.4 1261.5,1046.3 1277.1,1048.3 1284.9,1046.3 1296.6,1050.2 1304.4,1044.4 1316.1,1040.5 1327.8,1036.6 1339.5,1028.8 1351.2,1024.9 1362.9,1021.0 1370.7,1013.2 1382.4,1005.4 1394.1,997.6 1405.9,995.6 1417.6,993.7 1433.2,991.7 1444.9,993.7 1452.7,989.8 1460.5,978.0 1464.4,966.3 1472.2,962.4 1480.0,964.4 1491.7,958.5 1503.4,948.8 1519.0,939.0 1530.7,935.1 1542.4,939.0 1558.0,935.1 1569.8,927.3 1577.6,933.2 1571.7,944.9 1560.0,956.6 1548.3,964.4 1540.5,974.1 1536.6,985.9 1528.8,995.6 1517.1,1003.4 1505.4,1011.2 1491.7,1019.0 1480.0,1032.7 1472.2,1036.6 1460.5,1036.6 1448.8,1036.6 1437.1,1040.5 1425.4,1044.4 1413.7,1052.2 1405.9,1056.1 1394.1,1054.1 1384.4,1056.1 1394.1,1065.9 1400.0,1071.7 1394.1,1075.6 1384.4,1079.5 1374.6,1081.5 1362.9,1083.4 1347.3,1083.4 1335.6,1079.5 1323.9,1075.6 1312.2,1075.6 1300.5,1073.7 1288.8,1069.8 1277.1,1065.9 1265.4,1062.0 1253.7,1058.0 1242.0,1058.0 1230.2,1058.0" filter="url(#em1)"/>
<polygon fill="#b9d34d" points="1576.0,846.6 1579.9,850.5 1576.0,868.0 1572.0,883.7 1564.2,899.3 1556.4,911.0 1548.6,918.8 1540.8,922.7 1536.9,916.8 1544.7,907.1 1550.6,895.4 1558.4,881.7 1564.2,868.0 1570.1,852.4" opacity="0.9"/>
<polygon fill="#f4b23e" points="1576.0,846.6 1579.9,850.5 1576.0,868.0 1572.0,883.7 1564.2,899.3 1556.4,911.0 1548.6,918.8 1540.8,922.7 1536.9,916.8 1544.7,907.1 1550.6,895.4 1558.4,881.7 1564.2,868.0 1570.1,852.4" filter="url(#em2)"/>
<polygon fill="#f4b23e" points="1284.9,1054.1 1308.3,1050.2 1335.6,1036.6 1362.9,1024.9 1390.2,1009.3 1417.6,1001.5 1444.9,1001.5 1464.4,982.0 1491.7,966.3 1522.9,946.8 1558.0,941.0 1542.4,966.3 1522.9,993.7 1491.7,1013.2 1464.4,1032.7 1425.4,1040.5 1394.1,1052.2 1390.2,1071.7 1362.9,1079.5 1335.6,1075.6 1308.3,1069.8" filter="url(#em2)"/>
<polygon fill="#ee6b33" points="1222.4,1052.2 1232.2,1044.4 1243.9,1038.5 1251.7,1036.6 1253.7,1042.4 1261.5,1046.3 1277.1,1048.3 1284.9,1046.3 1296.6,1050.2 1304.4,1044.4 1316.1,1040.5 1327.8,1036.6 1339.5,1028.8 1351.2,1024.9 1362.9,1021.0 1370.7,1013.2 1382.4,1005.4 1394.1,997.6 1405.9,995.6 1417.6,993.7 1433.2,991.7 1444.9,993.7 1452.7,989.8 1460.5,978.0 1464.4,966.3 1472.2,962.4 1480.0,964.4 1491.7,958.5 1503.4,948.8 1519.0,939.0 1530.7,935.1 1542.4,939.0 1558.0,935.1 1569.8,927.3 1577.6,933.2 1571.7,944.9 1560.0,956.6 1548.3,964.4 1540.5,974.1 1536.6,985.9 1528.8,995.6 1517.1,1003.4 1505.4,1011.2 1491.7,1019.0 1480.0,1032.7 1472.2,1036.6 1460.5,1036.6 1448.8,1036.6 1437.1,1040.5 1425.4,1044.4 1413.7,1052.2 1405.9,1056.1 1394.1,1054.1 1384.4,1056.1 1394.1,1065.9 1400.0,1071.7 1394.1,1075.6 1384.4,1079.5 1374.6,1081.5 1362.9,1083.4 1347.3,1083.4 1335.6,1079.5 1323.9,1075.6 1312.2,1075.6 1300.5,1073.7 1288.8,1069.8 1277.1,1065.9 1265.4,1062.0 1253.7,1058.0 1242.0,1058.0 1230.2,1058.0" filter="url(#em4)"/>
<polygon fill="#b9d34d" points="1199.0,1001.5 1242.0,1009.3 1296.6,982.0 1335.6,978.0 1335.6,1009.3 1355.1,1024.9 1327.8,1036.6 1296.6,1048.3 1253.7,1036.6 1218.5,1044.4 1199.0,1028.8" filter="url(#em3)" opacity="0.8"/>
<polygon fill="#f4b23e" points="1335.6,1052.2 1347.3,1048.3 1362.9,1052.2 1374.6,1056.1 1378.5,1067.8 1370.7,1077.6 1355.1,1081.5 1343.4,1079.5 1335.6,1071.7 1331.7,1062.0" opacity="0.75"/>
<polygon fill="#e7382d" points="1357.1,1062.0 1361.0,1056.1 1368.8,1054.1 1374.6,1060.0 1374.6,1067.8 1368.8,1073.7 1361.0,1074.6 1357.1,1069.8"/>
<polygon fill="#e7382d" points="1341.5,1052.2 1347.3,1050.2 1352.2,1056.1 1350.2,1062.0 1343.4,1061.0 1340.5,1056.1"/>
<polygon fill="#e7382d" points="1224.4,1052.2 1230.2,1050.6 1247.8,1054.1 1247.8,1056.1 1230.2,1056.1 1225.4,1056.1"/>
<circle cx="1405.9" cy="1042.4" r="4.2" fill="#f4b23e"/>
<circle cx="1405.9" cy="1042.4" r="3.0" fill="#e7382d"/>
<circle cx="1366.8" cy="1045.4" r="4.2" fill="#f4b23e"/>
<circle cx="1366.8" cy="1045.4" r="3.0" fill="#e7382d"/>
<circle cx="1558.4" cy="896.3" r="5.4" fill="#f4b23e"/>
<circle cx="1558.4" cy="896.3" r="4.2" fill="#e7382d"/>
<circle cx="1518.4" cy="992.9" r="5.2" fill="#f4b23e"/>
<circle cx="1518.4" cy="992.9" r="4.0" fill="#e7382d"/>
<circle cx="1477.4" cy="952.0" r="4.2" fill="#f4b23e"/>
<circle cx="1477.4" cy="952.0" r="3.0" fill="#e7382d"/>
<circle cx="1497.9" cy="940.2" r="3.7" fill="#f4b23e"/>
<circle cx="1497.9" cy="940.2" r="2.5" fill="#e7382d"/>
<circle cx="1501.8" cy="983.2" r="3.7" fill="#f4b23e"/>
<circle cx="1501.8" cy="983.2" r="2.5" fill="#e7382d"/>
<circle cx="1477.4" cy="1006.6" r="4.2" fill="#f4b23e"/>
<circle cx="1477.4" cy="1006.6" r="3.0" fill="#e7382d"/>
<circle cx="1537.0" cy="939.0" r="3.2" fill="#f4b23e"/>
<circle cx="1537.0" cy="939.0" r="2.0" fill="#e7382d"/>
<circle cx="1545.0" cy="938.0" r="3.2" fill="#f4b23e"/>
<circle cx="1545.0" cy="938.0" r="2.0" fill="#e7382d"/>
<circle cx="1572.0" cy="927.6" r="3.7" fill="#f4b23e"/>
<circle cx="1572.0" cy="927.6" r="2.5" fill="#e7382d"/>
<circle cx="1412.0" cy="999.8" r="3.7" fill="#f4b23e"/>
<circle cx="1412.0" cy="999.8" r="2.5" fill="#e7382d"/>
<circle cx="1438.4" cy="979.3" r="3.2" fill="#f4b23e"/>
<circle cx="1438.4" cy="979.3" r="2.0" fill="#e7382d"/>
<circle cx="1571.0" cy="850.0" r="3.2" fill="#f4b23e"/>
<circle cx="1571.0" cy="850.0" r="2.0" fill="#e7382d"/>
<circle cx="1567.0" cy="866.0" r="3.0" fill="#f4b23e"/>
<circle cx="1567.0" cy="866.0" r="1.8" fill="#e7382d"/>
<circle cx="1563.0" cy="880.0" r="3.2" fill="#f4b23e"/>
<circle cx="1563.0" cy="880.0" r="2.0" fill="#e7382d"/>
<circle cx="1553.0" cy="912.0" r="3.2" fill="#f4b23e"/>
<circle cx="1553.0" cy="912.0" r="2.0" fill="#e7382d"/>
<circle cx="1535.0" cy="962.0" r="3.2" fill="#f4b23e"/>
<circle cx="1535.0" cy="962.0" r="2.0" fill="#e7382d"/>
<circle cx="1522.0" cy="975.0" r="3.2" fill="#f4b23e"/>
<circle cx="1522.0" cy="975.0" r="2.0" fill="#e7382d"/>
<circle cx="1391.4" cy="1018.8" r="1.6" fill="#e7382d"/>
<circle cx="1408.2" cy="1022.7" r="1.1" fill="#ee6b33"/>
<circle cx="1398.5" cy="1026.5" r="1.1" fill="#e7382d"/>
<circle cx="1446.8" cy="1023.8" r="1.6" fill="#e7382d"/>
<circle cx="1452.7" cy="1026.7" r="1.1" fill="#ee6b33"/>
<circle cx="1448.6" cy="1010.2" r="0.9" fill="#e7382d"/>
<circle cx="1453.0" cy="997.0" r="0.9" fill="#ee6b33"/>
<circle cx="1331.0" cy="1047.0" r="1.3" fill="#e7382d"/>
<circle cx="1375.5" cy="1059.6" r="1.6" fill="#e7382d"/>
<circle cx="1490.6" cy="977.5" r="0.9" fill="#e7382d"/>
<circle cx="1354.9" cy="1076.3" r="0.9" fill="#e7382d"/>
<circle cx="1271.9" cy="1052.6" r="1.1" fill="#ee6b33"/>
<circle cx="1423.9" cy="1002.8" r="1.1" fill="#ee6b33"/>
<circle cx="1487.9" cy="998.7" r="1.6" fill="#e7382d"/>
<circle cx="1436.9" cy="1021.2" r="0.9" fill="#e7382d"/>
<circle cx="1488.9" cy="985.9" r="1.3" fill="#e7382d"/>
<circle cx="1400.9" cy="1020.9" r="1.6" fill="#e7382d"/>
<circle cx="1445.1" cy="1017.9" r="1.6" fill="#e7382d"/>
<circle cx="1437.4" cy="999.1" r="0.9" fill="#e7382d"/>
<circle cx="1326.2" cy="1039.4" r="1.3" fill="#e7382d"/>
<circle cx="1339.0" cy="1069.7" r="1.1" fill="#ee6b33"/>
<circle cx="1363.9" cy="1065.9" r="1.3" fill="#ee6b33"/>
<circle cx="1476.7" cy="1013.4" r="1.1" fill="#ee6b33"/>
<circle cx="1546.7" cy="942.1" r="0.9" fill="#e7382d"/>
<circle cx="1277.3" cy="1061.1" r="0.9" fill="#e7382d"/>
<circle cx="1428.0" cy="1028.0" r="1.6" fill="#e7382d"/>
<circle cx="1431.0" cy="1025.8" r="0.9" fill="#e7382d"/>
<circle cx="1371.9" cy="1043.7" r="1.6" fill="#e7382d"/>
<circle cx="1394.5" cy="1016.1" r="0.9" fill="#e7382d"/>
<circle cx="1436.7" cy="1007.5" r="1.1" fill="#ee6b33"/>
<circle cx="1454.6" cy="1008.3" r="0.9" fill="#e7382d"/>
<circle cx="1345.3" cy="1035.6" r="1.1" fill="#ee6b33"/>
<circle cx="1305.3" cy="1068.0" r="1.6" fill="#e7382d"/>
<circle cx="1525.1" cy="985.6" r="1.3" fill="#e7382d"/>
<circle cx="1483.4" cy="967.6" r="1.1" fill="#e7382d"/>
<circle cx="1320.5" cy="1070.2" r="1.1" fill="#e7382d"/>
<circle cx="1526.3" cy="944.8" r="0.9" fill="#e7382d"/>
<circle cx="1503.8" cy="955.1" r="1.6" fill="#e7382d"/>
<circle cx="1351.2" cy="1057.1" r="1.3" fill="#ee6b33"/>
<circle cx="1389.6" cy="1028.8" r="1.3" fill="#e7382d"/>
<circle cx="1465.9" cy="1013.2" r="1.1" fill="#e7382d"/>
<circle cx="1421.1" cy="1032.0" r="1.3" fill="#e7382d"/>
<circle cx="1353.0" cy="1078.9" r="0.9" fill="#ee6b33"/>
<circle cx="1535.0" cy="956.6" r="1.1" fill="#e7382d"/>
<circle cx="1351.2" cy="1068.6" r="0.9" fill="#e7382d"/>
<circle cx="1337.4" cy="1070.0" r="1.1" fill="#e7382d"/>
<circle cx="1415.9" cy="1036.8" r="1.1" fill="#e7382d"/>
<circle cx="1369.7" cy="1059.4" r="1.1" fill="#e7382d"/>
<circle cx="1413.2" cy="1020.6" r="1.1" fill="#e7382d"/>
<circle cx="1416.8" cy="1010.7" r="1.6" fill="#e7382d"/>
<circle cx="1473.9" cy="973.8" r="1.6" fill="#e7382d"/>
<circle cx="1405.8" cy="1022.0" r="1.3" fill="#ee6b33"/>
<circle cx="1379.5" cy="1014.4" r="1.1" fill="#ee6b33"/>
<circle cx="1448.0" cy="1014.5" r="1.1" fill="#e7382d"/>
<circle cx="1312.9" cy="1049.9" r="1.1" fill="#e7382d"/>
</g>
<polygon points="1181.5,991.7 1189.3,987.8 1199.0,987.8 1210.7,985.9 1218.5,989.8 1224.4,993.7 1228.3,999.5 1234.1,1005.4 1242.0,1001.5 1251.7,1002.4 1259.5,999.5 1269.3,999.5 1279.0,997.6 1282.9,993.7 1277.1,985.9 1273.2,978.0 1268.3,973.2 1277.1,968.3 1284.9,970.2 1292.7,972.2 1300.5,970.2 1308.3,968.3 1316.1,968.3 1323.9,966.3 1331.7,968.3 1339.5,962.4 1341.5,954.6 1340.5,946.8 1347.3,948.8 1353.2,954.6 1355.1,960.5 1359.0,964.4 1351.2,968.3 1345.4,974.1 1341.5,982.0 1337.6,987.8 1339.5,993.7 1343.4,999.5 1347.3,1005.4 1355.1,1011.2 1362.9,1011.2 1366.8,1005.4 1374.6,1001.5 1380.5,993.7 1388.3,989.8 1396.1,985.9 1402.0,985.9 1400.0,980.0 1394.1,976.1 1391.2,972.2 1398.4,965.6 1408.1,955.9 1417.9,955.9 1427.7,954.9 1435.5,957.8 1445.2,956.8 1453.0,953.9 1460.8,948.0 1463.8,942.2 1458.9,936.3 1455.0,932.4 1462.8,926.6 1470.6,924.6 1478.4,918.8 1486.2,915.9 1482.3,907.1 1480.3,895.4 1478.4,883.7 1479.4,872.0 1480.3,860.2 1478.4,848.5 1473.5,840.7 1476.4,834.9 1472.5,829.0 1473.5,821.2 1482.3,819.3 1490.1,821.2 1496.0,816.3 1503.8,819.3 1509.6,821.2 1517.4,817.3 1525.2,816.3 1527.2,823.2 1533.0,825.1 1536.9,831.0 1542.8,832.9 1548.6,829.0 1556.4,829.0 1562.3,834.9 1568.1,840.7 1576.0,836.8 1585.7,836.8 1593.5,838.8 1597.4,846.6 1603.3,852.4 1607.2,858.3 1611.1,864.1 1618.9,868.0 1626.7,872.0 1632.5,877.8 1637.4,878.8 1636.4,889.5 1632.5,899.3 1634.5,907.1 1626.7,911.0 1620.8,912.9 1611.1,912.9 1603.3,914.9 1597.4,918.8 1595.5,926.6 1593.5,934.4 1589.6,944.1 1591.6,953.9 1595.5,963.7 1599.4,973.4 1598.4,985.1 1595.5,991.0 1585.7,991.0 1577.9,994.9 1570.1,1000.7 1562.3,1006.6 1552.5,1010.5 1544.7,1014.4 1536.9,1017.3 1529.1,1020.0 1519.0,1024.9 1507.3,1028.8 1491.7,1032.7 1480.0,1034.6 1472.2,1036.6 1474.1,1044.4 1468.3,1050.2 1460.5,1048.3 1450.7,1052.2 1444.9,1058.0 1441.0,1065.9 1435.1,1063.9 1429.3,1065.9 1427.3,1071.7 1421.5,1075.6 1415.6,1079.5 1411.7,1085.4 1413.7,1093.2 1405.9,1099.0 1394.1,1099.0 1384.4,1097.1 1374.6,1097.1 1364.9,1101.0 1355.1,1102.9 1347.3,1106.8 1335.6,1104.9 1325.9,1106.8 1316.1,1109.8 1306.3,1110.7 1296.6,1112.7 1286.8,1110.7 1277.1,1114.6 1269.3,1116.6 1257.6,1114.6 1249.8,1118.5 1242.0,1110.7 1240.0,1104.9 1232.2,1108.8 1224.4,1099.0 1218.5,1101.0 1210.7,1099.0 1204.9,1104.9 1201.0,1114.6 1193.2,1116.6 1189.3,1124.4 1183.4,1114.6 1179.5,1110.7 1181.5,1102.9 1176.6,1097.1 1180.5,1087.3 1179.5,1079.5 1185.4,1075.6 1186.3,1067.8 1181.5,1062.0 1187.3,1060.0 1195.1,1054.1 1189.3,1046.3 1179.5,1040.5 1171.7,1036.6 1167.8,1032.7 1177.6,1026.8 1181.5,1019.0 1185.4,1013.2 1183.4,1005.4 1179.5,997.6" fill="none" stroke="#12120c" stroke-width="1.7" stroke-linejoin="round"/>
</g>
<rect x="796.1" y="819.1" width="335.2" height="299.5" fill="#fff"/>
<rect x="796.10" y="1056.23" width="9.93" height="62.37" fill="#6f76b3"/>
<rect x="805.68" y="1032.67" width="9.93" height="85.93" fill="#5b9c7b"/>
<rect x="815.25" y="977.44" width="9.93" height="141.16" fill="#5cb04a"/>
<rect x="824.83" y="1007.41" width="9.93" height="111.19" fill="#8bc35b"/>
<rect x="834.41" y="1026.97" width="9.93" height="91.63" fill="#c4da6c"/>
<rect x="843.99" y="1110.32" width="9.93" height="8.28" fill="#a9cb3d"/>
<rect x="853.56" y="1110.75" width="9.93" height="7.85" fill="#e5e540"/>
<rect x="863.14" y="1031.68" width="9.93" height="86.92" fill="#6f76b3"/>
<rect x="872.72" y="885.09" width="9.93" height="233.51" fill="#5b9c7b"/>
<rect x="882.29" y="970.44" width="9.93" height="148.16" fill="#5cb04a"/>
<rect x="891.87" y="1072.64" width="9.93" height="45.96" fill="#8bc35b"/>
<rect x="901.45" y="1110.32" width="9.93" height="8.28" fill="#c4da6c"/>
<rect x="911.03" y="1111.04" width="9.93" height="7.56" fill="#a9cb3d"/>
<rect x="920.60" y="1118.03" width="9.93" height="0.57" fill="#e5e540"/>
<rect x="930.18" y="1059.51" width="9.93" height="59.09" fill="#6f76b3"/>
<rect x="939.76" y="935.33" width="9.93" height="183.27" fill="#5b9c7b"/>
<rect x="949.33" y="979.29" width="9.93" height="139.31" fill="#5cb04a"/>
<rect x="958.91" y="971.58" width="9.93" height="147.02" fill="#8bc35b"/>
<rect x="968.49" y="1106.32" width="9.93" height="12.28" fill="#c4da6c"/>
<rect x="978.07" y="1114.18" width="9.93" height="4.42" fill="#a9cb3d"/>
<rect x="987.64" y="1110.32" width="9.93" height="8.28" fill="#e5e540"/>
<rect x="997.22" y="846.69" width="9.93" height="271.91" fill="#6f76b3"/>
<rect x="1006.80" y="895.94" width="9.93" height="222.66" fill="#5b9c7b"/>
<rect x="1016.37" y="1084.34" width="9.93" height="34.26" fill="#5cb04a"/>
<rect x="1025.95" y="1079.63" width="9.93" height="38.97" fill="#8bc35b"/>
<rect x="1035.53" y="1115.89" width="9.93" height="2.71" fill="#c4da6c"/>
<rect x="1045.11" y="1114.60" width="9.93" height="4.00" fill="#a9cb3d"/>
<rect x="1054.68" y="1111.18" width="9.93" height="7.42" fill="#e5e540"/>
<rect x="1064.26" y="820.57" width="9.93" height="298.03" fill="#6f76b3"/>
<rect x="1073.84" y="903.22" width="9.93" height="215.38" fill="#5b9c7b"/>
<rect x="1083.41" y="1043.38" width="9.93" height="75.22" fill="#5cb04a"/>
<rect x="1092.99" y="1099.62" width="9.93" height="18.98" fill="#8bc35b"/>
<rect x="1102.57" y="1115.32" width="9.93" height="3.28" fill="#c4da6c"/>
<rect x="1112.15" y="1118.17" width="9.93" height="0.43" fill="#a9cb3d"/>
<rect x="1121.72" y="1118.31" width="9.93" height="0.29" fill="#e5e540"/>
<rect x="796.1" y="819.1" width="335.2" height="299.5" fill="none" stroke="#3c3434" stroke-width="1.2"/>
<text x="792.2" y="1126.2" font-size="22.5" text-anchor="end" letter-spacing="0.8">0</text>
<line x1="796.1" y1="1047.2" x2="802.1" y2="1047.2" stroke="#3c3434" stroke-width="1.1"/>
<text x="792.2" y="1054.8" font-size="22.5" text-anchor="end" letter-spacing="0.8">50</text>
<line x1="796.1" y1="975.9" x2="802.1" y2="975.9" stroke="#3c3434" stroke-width="1.1"/>
<text x="792.2" y="983.5" font-size="22.5" text-anchor="end" letter-spacing="0.8">100</text>
<line x1="796.1" y1="904.5" x2="802.1" y2="904.5" stroke="#3c3434" stroke-width="1.1"/>
<text x="792.2" y="912.1" font-size="22.5" text-anchor="end" letter-spacing="0.8">150</text>
<line x1="796.1" y1="833.1" x2="802.1" y2="833.1" stroke="#3c3434" stroke-width="1.1"/>
<text x="792.2" y="840.7" font-size="22.5" text-anchor="end" letter-spacing="0.8">200</text>
<text x="817.0" y="1138.8" font-size="22.5" text-anchor="middle" letter-spacing="0.8">2000</text>
<text x="881.3" y="1138.8" font-size="22.5" text-anchor="middle" letter-spacing="0.8">2005</text>
<text x="950.4" y="1138.8" font-size="22.5" text-anchor="middle" letter-spacing="0.8">2010</text>
<text x="1012.9" y="1138.8" font-size="22.5" text-anchor="middle" letter-spacing="0.8">2015</text>
<text x="1081.9" y="1138.8" font-size="22.5" text-anchor="middle" letter-spacing="0.8">2020</text>
<text x="952.3" y="1163.4" font-size="23.4" text-anchor="middle" letter-spacing="0.8">年份</text>
<text transform="translate(745.6,974.5) rotate(-90)" font-size="21.5" text-anchor="middle" letter-spacing="2.9">人口/百万</text>
<rect x="781.2" y="798.6" width="4.6" height="4.6" fill="#6f76b3"/>
<text x="788.7" y="809.3" font-size="23.3" letter-spacing="0.5">极低</text>
<rect x="840.6" y="798.6" width="4.6" height="4.6" fill="#5b9c7b"/>
<text x="846.0" y="809.3" font-size="23.3" letter-spacing="0.5">低</text>
<rect x="874.4" y="798.6" width="4.6" height="4.6" fill="#5cb04a"/>
<text x="879.9" y="809.3" font-size="23.3" letter-spacing="0.5">较低</text>
<rect x="933.0" y="798.6" width="4.6" height="4.6" fill="#8bc35b"/>
<text x="938.4" y="809.3" font-size="23.3" letter-spacing="0.5">中等</text>
<rect x="988.8" y="798.6" width="4.6" height="4.6" fill="#c4da6c"/>
<text x="994.4" y="809.3" font-size="23.3" letter-spacing="0.5">较高</text>
<rect x="1046.8" y="798.6" width="4.6" height="4.6" fill="#a9cb3d"/>
<text x="1053.0" y="809.3" font-size="23.3" letter-spacing="0.5">高</text>
<rect x="1080.7" y="798.6" width="4.6" height="4.6" fill="#e5e540"/>
<text x="1086.9" y="809.3" font-size="23.3" letter-spacing="0.5">极高</text>
<polygon fill="#e7382d" points="47.5,912.0 52.9,928.6 70.3,928.6 56.2,938.8 61.6,955.4 47.5,945.2 33.4,955.4 38.8,938.8 24.7,928.6 42.1,928.6"/>
<text x="80.4" y="946.2" font-size="33.0" letter-spacing="0.8">北京</text>
<text x="203.6" y="940.0" font-size="33.0">0</text>
<text x="296.2" y="940.0" font-size="33.0">1 000 km</text>
<polyline points="211.5,945.5 211.5,954.5 335.3,954.5 335.3,945.5" fill="none" stroke="#2a2a22" stroke-width="1.3"/>
<rect x="15.5" y="981" width="54" height="27" fill="none" stroke="#15150f" stroke-width="1.6" stroke-dasharray="7.5 4"/>
<text x="79.2" y="1006.2" font-size="33.0" letter-spacing="0.7">三北防护林建设区域</text>
<rect x="475" y="985" width="53" height="23" fill="none" stroke="#15150f" stroke-width="2.8"/>
<text x="538.3" y="1007.2" font-size="33.0" letter-spacing="1.2">研究区</text>
<line x1="20.5" y1="1055" x2="20.5" y2="1078" stroke="#eef0a0" stroke-width="1.4"/>
<line x1="36.5" y1="1055" x2="36.5" y2="1078" stroke="#eef0a0" stroke-width="1.4"/>
<line x1="51.5" y1="1055" x2="51.5" y2="1078" stroke="#eef0a0" stroke-width="1.4"/>
<line x1="62.5" y1="1055" x2="62.5" y2="1078" stroke="#eef0a0" stroke-width="1.4"/>
<rect x="15.5" y="1053.5" width="54" height="26.5" fill="none" stroke="#2b58a5" stroke-width="2.2" stroke-dasharray="8.5 4.5"/>
<text x="79.2" y="1077.2" font-size="33.0" letter-spacing="0.46">京津冀防沙治沙建设区域</text>
<rect x="473" y="1052.6" width="54.5" height="26.3" fill="none" stroke="#15150f" stroke-width="1.2"/>
<text x="540.2" y="1077.4" font-size="33.0" letter-spacing="0.25">省级行政区</text>
<rect fill="#e7382d" x="12.5" y="1119.5" width="55.0" height="27.5"/>
<text x="71.1" y="1144.6" font-size="33.0" letter-spacing="1.4">极高</text>
<rect fill="#ee6b33" x="143.8" y="1119.5" width="56.2" height="27.5"/>
<text x="205.6" y="1144.6" font-size="33.0" letter-spacing="1.4">高</text>
<rect fill="#f4b23e" x="243.8" y="1119.5" width="56.2" height="27.5"/>
<text x="304.6" y="1144.6" font-size="33.0" letter-spacing="1.4">较高</text>
<rect fill="#b5d43c" x="380.0" y="1119.5" width="55.3" height="27.5"/>
<text x="439.1" y="1144.6" font-size="33.0" letter-spacing="1.4">较低</text>
<rect fill="#7dba3c" x="515.1" y="1119.5" width="54.9" height="27.5"/>
<text x="574.1" y="1144.6" font-size="33.0" letter-spacing="1.4">低</text>
<rect fill="#4f9a40" x="612.1" y="1119.5" width="55.4" height="27.5"/>
<text x="671.6" y="1144.6" font-size="33.0" letter-spacing="1.4">极低</text>
<text x="30.3" y="52.5" font-size="33.4">(a)</text>
<text x="600.3" y="52.5" font-size="33.4">(b)</text>
<text x="1172.3" y="53.0" font-size="33.4">(c)</text>
<text x="1168.3" y="404.5" font-size="33.4">(d)</text>
<text x="1168.3" y="809.0" font-size="33.4">(e)</text>
<text x="525.3" y="44.0" font-size="35.3" text-anchor="middle">N</text>
<polygon points="525.8,45.5 514.2,84.0 525.8,70.3" fill="#15110f"/>
<polygon points="525.8,46.5 536.9,82.8 525.8,70.3" fill="none" stroke="#15110f" stroke-width="1.1" stroke-linejoin="miter"/>
<text x="1111.0" y="46.0" font-size="35.3" text-anchor="middle">N</text>
<polygon points="1111.5,48.7 1100.1,86.2 1111.5,72.7" fill="#15110f"/>
<polygon points="1111.5,49.7 1122.4,85.0 1111.5,72.7" fill="none" stroke="#15110f" stroke-width="1.1" stroke-linejoin="miter"/>
<text x="1616.9" y="42.2" font-size="35.3" text-anchor="middle">N</text>
<polygon points="1617.4,44.0 1605.9,82.0 1617.4,68.5" fill="#15110f"/>
<polygon points="1617.4,45.0 1628.4,80.8 1617.4,68.5" fill="none" stroke="#15110f" stroke-width="1.1" stroke-linejoin="miter"/>
<text x="1617.4" y="391.1" font-size="35.3" text-anchor="middle">N</text>
<polygon points="1617.9,394.5 1606.4,431.5 1617.9,420.3" fill="#15110f"/>
<polygon points="1617.9,395.5 1628.9,430.3 1617.9,420.3" fill="none" stroke="#15110f" stroke-width="1.1" stroke-linejoin="miter"/>
<text x="1617.4" y="795.5" font-size="35.3" text-anchor="middle">N</text>
<polygon points="1617.9,798.8 1606.2,836.0 1617.9,827.0" fill="#15110f"/>
<polygon points="1617.9,799.8 1629.1,834.8 1617.9,827.0" fill="none" stroke="#15110f" stroke-width="1.1" stroke-linejoin="miter"/>
<text x="66.0" y="407.9" font-size="35.3" text-anchor="middle">N</text>
<polygon points="66.5,412.8 50.3,467.0 66.5,446.0" fill="#15110f"/>
<polygon points="66.5,413.8 82.2,465.8 66.5,446.0" fill="none" stroke="#15110f" stroke-width="1.1" stroke-linejoin="miter"/>
<polyline points="429.5,319.0 429.5,329.5 481.0,329.5 481.0,319.0" fill="none" stroke="#1e2414" stroke-width="1.4"/>
<text x="421.7" y="309.0" font-size="32.5">0</text>
<text x="463.2" y="309.0" font-size="32.5">20 km</text>
<polyline points="1007.2,319.3 1007.2,329.3 1061.2,329.3 1061.2,319.3" fill="none" stroke="#1e2414" stroke-width="1.4"/>
<text x="997.4" y="309.5" font-size="32.5">0</text>
<text x="1041.8" y="309.5" font-size="32.5">25 km</text>
<polyline points="1176.5,318.5 1176.5,329.0 1258.5,329.0 1258.5,318.5" fill="none" stroke="#1e2414" stroke-width="1.4"/>
<text x="1168.3" y="309.2" font-size="32.5">0</text>
<text x="1239.2" y="309.2" font-size="32.5">20 km</text>
<polyline points="1478.3,722.8 1478.3,731.5 1539.4,731.5 1539.4,722.8" fill="none" stroke="#1e2414" stroke-width="1.4"/>
<text x="1469.2" y="715.2" font-size="32.5">0</text>
<text x="1514.7" y="715.2" font-size="32.5">150 km</text>
<polyline points="1477.2,1119.5 1477.2,1129.3 1545.6,1129.3 1545.6,1119.5" fill="none" stroke="#1e2414" stroke-width="1.4"/>
<text x="1469.5" y="1111.0" font-size="32.5">0</text>
<text x="1515.3" y="1111.0" font-size="32.5">100 km</text>
<rect x="8.0" y="12.0" width="558.0" height="337.0" fill="none" stroke="#23260f" stroke-width="1.25"/>
<rect x="579.0" y="12.0" width="562.0" height="337.0" fill="none" stroke="#23260f" stroke-width="1.25"/>
<rect x="1156.0" y="12.0" width="487.5" height="337.0" fill="none" stroke="#23260f" stroke-width="1.25"/>
<rect x="8.6" y="361.5" width="1132.7" height="806.1" fill="none" stroke="#23260f" stroke-width="1.25"/>
<rect x="1155.8" y="361.5" width="487.7" height="390.5" fill="none" stroke="#23260f" stroke-width="1.25"/>
<rect x="1155.8" y="765.8" width="487.7" height="401.7" fill="none" stroke="#23260f" stroke-width="1.25"/>
</svg></body></html>
